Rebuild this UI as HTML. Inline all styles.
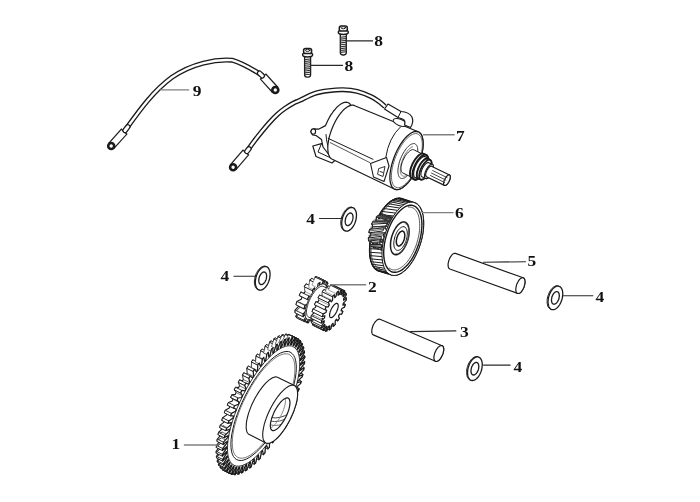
<!DOCTYPE html>
<html><head><meta charset="utf-8"><title>Starter motor parts</title>
<style>
html,body{margin:0;padding:0;background:#fff;}
body{width:700px;height:502px;overflow:hidden;}
svg{display:block;}
.lb{font-family:"Liberation Serif",serif;font-weight:bold;font-size:15.5px;fill:#111;}
</style></head><body>
<svg width="700" height="502" viewBox="0 0 700 502" stroke-linejoin="round" stroke-linecap="round">
<rect width="700" height="502" fill="#fff"/>
<path d="M125,130.5 C138,112.5 152,92 172,77.3 C192,63.3 216,59 232,60.2 C243,63.5 253,69.5 262.5,75.5" fill="none" stroke="#1a1a1a" stroke-width="5.0" stroke-linecap="butt"/>
<path d="M125,130.5 C138,112.5 152,92 172,77.3 C192,63.3 216,59 232,60.2 C243,63.5 253,69.5 262.5,75.5" fill="none" stroke="#fff" stroke-width="2.3" stroke-linecap="butt"/>
<line x1="124.5" y1="131.2" x2="111.2" y2="146.0" stroke="#1a1a1a" stroke-width="8.6" stroke-linecap="butt"/>
<line x1="123.7" y1="132.1" x2="111.2" y2="146.0" stroke="#fff" stroke-width="6.199999999999999" stroke-linecap="butt"/>
<circle cx="111.2" cy="146.0" r="3.0" fill="#fff" stroke="#1a1a1a" stroke-width="2.6"/>
<line x1="262.8" y1="76.2" x2="275.3" y2="90.0" stroke="#1a1a1a" stroke-width="8.6" stroke-linecap="butt"/>
<line x1="263.6" y1="77.1" x2="275.3" y2="90.0" stroke="#fff" stroke-width="6.199999999999999" stroke-linecap="butt"/>
<circle cx="275.3" cy="90.0" r="3.0" fill="#fff" stroke="#1a1a1a" stroke-width="2.6"/>
<line x1="127.8" y1="126.8" x2="125.0" y2="130.5" stroke="#1a1a1a" stroke-width="5.4" stroke-linecap="round"/>
<line x1="127.8" y1="126.8" x2="125.0" y2="130.5" stroke="#fff" stroke-width="3.0000000000000004" stroke-linecap="round"/>
<line x1="259.5" y1="73.2" x2="262.3" y2="75.8" stroke="#1a1a1a" stroke-width="5.4" stroke-linecap="round"/>
<line x1="259.5" y1="73.2" x2="262.3" y2="75.8" stroke="#fff" stroke-width="3.0000000000000004" stroke-linecap="round"/>
<path d="M247.5,150.5 C248.6,149.0 251.6,144.7 254.0,141.5 C256.4,138.3 259.2,134.8 261.8,131.6 C264.4,128.4 266.9,125.4 269.5,122.5 C272.1,119.6 275.0,116.5 277.7,114.1 C280.4,111.7 282.8,109.8 285.5,108.0 C288.2,106.2 291.3,104.3 293.7,103.0 C296.1,101.7 296.6,101.9 300.0,100.3 C303.4,98.7 309.5,95.2 314.3,93.6 C319.1,92.0 323.8,91.3 328.6,90.7 C333.4,90.1 338.1,89.6 342.9,89.7 C347.6,89.8 352.4,90.2 357.1,91.4 C361.9,92.6 367.8,95.0 371.4,96.7 C375.0,98.4 376.7,99.9 379.0,101.5 C381.3,103.1 384.0,105.7 385.0,106.5" fill="none" stroke="#1a1a1a" stroke-width="5.0" stroke-linecap="butt"/>
<path d="M247.5,150.5 C248.6,149.0 251.6,144.7 254.0,141.5 C256.4,138.3 259.2,134.8 261.8,131.6 C264.4,128.4 266.9,125.4 269.5,122.5 C272.1,119.6 275.0,116.5 277.7,114.1 C280.4,111.7 282.8,109.8 285.5,108.0 C288.2,106.2 291.3,104.3 293.7,103.0 C296.1,101.7 296.6,101.9 300.0,100.3 C303.4,98.7 309.5,95.2 314.3,93.6 C319.1,92.0 323.8,91.3 328.6,90.7 C333.4,90.1 338.1,89.6 342.9,89.7 C347.6,89.8 352.4,90.2 357.1,91.4 C361.9,92.6 367.8,95.0 371.4,96.7 C375.0,98.4 376.7,99.9 379.0,101.5 C381.3,103.1 384.0,105.7 385.0,106.5" fill="none" stroke="#fff" stroke-width="2.3" stroke-linecap="butt"/>
<line x1="246.2" y1="152.0" x2="233.1" y2="167.3" stroke="#1a1a1a" stroke-width="8.6" stroke-linecap="butt"/>
<line x1="245.4" y1="152.9" x2="233.1" y2="167.3" stroke="#fff" stroke-width="6.199999999999999" stroke-linecap="butt"/>
<circle cx="233.1" cy="167.3" r="3.0" fill="#fff" stroke="#1a1a1a" stroke-width="2.6"/>
<line x1="249.0" y1="148.8" x2="246.8" y2="151.5" stroke="#1a1a1a" stroke-width="5.4" stroke-linecap="round"/>
<line x1="249.0" y1="148.8" x2="246.8" y2="151.5" stroke="#fff" stroke-width="3.0000000000000004" stroke-linecap="round"/>
<rect x="340.3" y="32.2" width="6.0" height="22.8" rx="2.4" fill="#fff" stroke="#1a1a1a" stroke-width="1.3"/>
<line x1="340.6" y1="37.2" x2="346.0" y2="36.6" stroke="#333" stroke-width="1.1"/>
<line x1="340.6" y1="39.1" x2="346.0" y2="38.5" stroke="#333" stroke-width="1.1"/>
<line x1="340.6" y1="41.0" x2="346.0" y2="40.4" stroke="#333" stroke-width="1.1"/>
<line x1="340.6" y1="42.9" x2="346.0" y2="42.3" stroke="#333" stroke-width="1.1"/>
<line x1="340.6" y1="44.8" x2="346.0" y2="44.2" stroke="#333" stroke-width="1.1"/>
<line x1="340.6" y1="46.7" x2="346.0" y2="46.1" stroke="#333" stroke-width="1.1"/>
<line x1="340.6" y1="48.6" x2="346.0" y2="48.0" stroke="#333" stroke-width="1.1"/>
<line x1="340.6" y1="50.5" x2="346.0" y2="49.9" stroke="#333" stroke-width="1.1"/>
<line x1="340.6" y1="52.4" x2="346.0" y2="51.8" stroke="#333" stroke-width="1.1"/>
<ellipse cx="343.3" cy="32.3" rx="5.0" ry="2.2" fill="#fff" stroke="#1a1a1a" stroke-width="1.5"/>
<rect x="339.3" y="25.9" width="8.0" height="5.2" rx="1.8" fill="#fff" stroke="#1a1a1a" stroke-width="1.5"/>
<ellipse cx="343.3" cy="27.7" rx="2.3" ry="1.1" fill="#fff" stroke="#1a1a1a" stroke-width="1.0"/>
<rect x="304.6" y="54.6" width="6.0" height="22.6" rx="2.4" fill="#fff" stroke="#1a1a1a" stroke-width="1.3"/>
<line x1="304.9" y1="59.6" x2="310.3" y2="59.0" stroke="#333" stroke-width="1.1"/>
<line x1="304.9" y1="61.5" x2="310.3" y2="60.9" stroke="#333" stroke-width="1.1"/>
<line x1="304.9" y1="63.4" x2="310.3" y2="62.8" stroke="#333" stroke-width="1.1"/>
<line x1="304.9" y1="65.3" x2="310.3" y2="64.7" stroke="#333" stroke-width="1.1"/>
<line x1="304.9" y1="67.2" x2="310.3" y2="66.6" stroke="#333" stroke-width="1.1"/>
<line x1="304.9" y1="69.1" x2="310.3" y2="68.5" stroke="#333" stroke-width="1.1"/>
<line x1="304.9" y1="71.0" x2="310.3" y2="70.4" stroke="#333" stroke-width="1.1"/>
<line x1="304.9" y1="72.9" x2="310.3" y2="72.3" stroke="#333" stroke-width="1.1"/>
<line x1="304.9" y1="74.8" x2="310.3" y2="74.2" stroke="#333" stroke-width="1.1"/>
<ellipse cx="307.6" cy="54.7" rx="5.0" ry="2.2" fill="#fff" stroke="#1a1a1a" stroke-width="1.5"/>
<rect x="303.6" y="48.5" width="8.0" height="5.0" rx="1.8" fill="#fff" stroke="#1a1a1a" stroke-width="1.5"/>
<ellipse cx="307.6" cy="50.3" rx="2.3" ry="1.1" fill="#fff" stroke="#1a1a1a" stroke-width="1.0"/>
<path d="M312.8,146 L321.5,143.6 L330,146 L336.5,159 L332,163 L316,156.5 Z" fill="#fff" stroke="#1a1a1a" stroke-width="1.2"/>
<path d="M321.5,143.6 L318,152 L332,158.5" fill="none" stroke="#1a1a1a" stroke-width="1"/>
<path d="M350.7,105.0 L350.2,104.3 L349.7,103.7 L349.1,103.2 L348.4,102.8 L347.7,102.5 L347.0,102.3 L346.2,102.2 L345.4,102.3 L344.6,102.4 L343.7,102.6 L342.8,103.0 L341.9,103.4 L340.9,104.0 L340.0,104.6 L339.0,105.4 L338.0,106.2 L337.0,107.2 L336.1,108.2 L335.1,109.3 L334.1,110.5 L333.1,111.7 L332.2,113.1 L331.2,114.4 L330.3,115.9 L329.4,117.4 L328.6,119.0 L327.8,120.6 L327.0,122.2 L326.2,123.9 L325.5,125.6 L318.5,129.2 L313.5,128.8 L310.8,131.5 L312.5,134.8 L316.0,135.5 L321.5,139.5 L323.0,147.0 L328.0,153.5 L332.0,157.0 L344.0,133.0 Z" fill="#fff" stroke="#1a1a1a" stroke-width="1.2" />
<path d="M326,134.5 Q326.5,146 331.5,154" fill="none" stroke="#1a1a1a" stroke-width="1"/>
<ellipse cx="313.3" cy="131.6" rx="2.3" ry="2.7" fill="#fff" stroke="#1a1a1a" stroke-width="1.1"/>
<path d="M354.8,105.8 L353.9,105.4 L353.0,105.2 L352.0,105.2 L351.0,105.3 L349.9,105.6 L348.8,106.1 L347.6,106.7 L346.5,107.5 L345.3,108.4 L344.0,109.5 L342.8,110.7 L341.6,112.1 L340.4,113.5 L339.2,115.1 L338.0,116.8 L336.9,118.6 L335.8,120.5 L334.8,122.5 L333.8,124.5 L332.9,126.6 L332.0,128.7 L331.2,130.8 L330.5,132.9 L329.8,135.1 L329.2,137.2 L328.8,139.3 L328.4,141.3 L328.1,143.3 L327.9,145.2 L327.8,147.1 L327.8,148.8 L327.9,150.5 L328.0,152.0 L328.3,153.4 L328.7,154.7 L329.1,155.9 L329.7,156.9 L330.3,157.8 L331.0,158.5 L331.8,159.0 L394.8,189.2 L395.7,189.5 L396.8,189.6 L397.9,189.5 L399.0,189.3 L400.2,188.9 L401.4,188.3 L402.7,187.5 L403.9,186.5 L405.2,185.4 L406.5,184.2 L407.8,182.8 L409.1,181.3 L410.4,179.6 L411.7,177.8 L412.9,175.9 L414.1,173.9 L415.2,171.9 L416.3,169.7 L417.3,167.5 L418.3,165.3 L419.2,163.0 L420.0,160.8 L420.7,158.5 L421.3,156.2 L421.9,154.0 L422.3,151.7 L422.7,149.6 L422.9,147.5 L423.1,145.5 L423.1,143.6 L423.0,141.8 L422.9,140.1 L422.6,138.5 L422.3,137.1 L421.8,135.8 L421.3,134.7 L420.6,133.7 L419.9,132.9 L419.1,132.3 L418.2,131.8 Z" fill="#fff" stroke="#1a1a1a" stroke-width="1.2" />
<path d="M400.6,126.8 Q388.5,138 385.8,157.5" fill="none" stroke="#1a1a1a" stroke-width="1"/>
<path d="M418.2,131.8 L419.4,132.5 L420.4,133.4 L421.3,134.7 L422.0,136.2 L422.5,138.0 L422.9,140.1 L423.1,142.4 L423.1,144.9 L422.9,147.5 L422.5,150.3 L422.0,153.2 L421.3,156.2 L420.4,159.2 L419.4,162.3 L418.3,165.3 L417.0,168.3 L415.6,171.2 L414.1,173.9 L412.5,176.6 L410.8,179.0 L409.1,181.3 L407.4,183.3 L405.7,185.0 L403.9,186.5 L402.2,187.8 L400.6,188.7 L399.0,189.3 L397.5,189.6 L396.1,189.5 L394.8,189.2 L393.6,188.5 L392.6,187.6 L391.7,186.3 L391.0,184.8 L390.5,183.0 L390.1,180.9 L389.9,178.6 L389.9,176.1 L390.1,173.5 L390.5,170.7 L391.0,167.8 L391.7,164.8 L392.6,161.8 L393.6,158.7 L394.7,155.7 L396.0,152.7 L397.4,149.8 L398.9,147.1 L400.5,144.4 L402.2,142.0 L403.9,139.7 L405.6,137.7 L407.3,136.0 L409.1,134.5 L410.8,133.2 L412.4,132.3 L414.0,131.7 L415.5,131.4 L416.9,131.5 Z" fill="#fff" stroke="#1a1a1a" stroke-width="1.3" />
<path d="M417.8,134.0 L418.8,134.6 L419.8,135.5 L420.6,136.6 L421.3,138.1 L421.8,139.8 L422.1,141.7 L422.3,143.8 L422.3,146.1 L422.1,148.6 L421.8,151.2 L421.3,153.9 L420.6,156.7 L419.8,159.5 L418.9,162.3 L417.8,165.1 L416.6,167.9 L415.3,170.6 L413.9,173.1 L412.4,175.6 L410.9,177.9 L409.3,180.0 L407.7,181.8 L406.1,183.5 L404.5,184.9 L402.9,186.0 L401.4,186.9 L399.9,187.4 L398.5,187.7 L397.2,187.7 L396.0,187.3 L394.9,186.7 L393.9,185.8 L393.1,184.7 L392.5,183.2 L392.0,181.5 L391.6,179.6 L391.5,177.5 L391.4,175.2 L391.6,172.7 L391.9,170.1 L392.4,167.4 L393.1,164.7 L393.9,161.8 L394.8,159.0 L395.9,156.2 L397.1,153.4 L398.4,150.7 L399.8,148.2 L401.3,145.7 L402.8,143.4 L404.4,141.3 L406.0,139.5 L407.6,137.8 L409.3,136.4 L410.8,135.3 L412.4,134.4 L413.8,133.9 L415.3,133.6 L416.6,133.6 Z" fill="none" stroke="#555" stroke-width="0.9" />
<path d="M414.9,143.8 L415.6,144.2 L416.2,144.8 L416.8,145.6 L417.2,146.5 L417.5,147.6 L417.7,148.8 L417.8,150.2 L417.8,151.7 L417.7,153.3 L417.5,155.0 L417.2,156.7 L416.8,158.5 L416.3,160.3 L415.6,162.1 L414.9,163.9 L414.2,165.7 L413.3,167.5 L412.4,169.1 L411.5,170.7 L410.5,172.2 L409.5,173.5 L408.4,174.7 L407.4,175.8 L406.4,176.7 L405.3,177.4 L404.3,178.0 L403.4,178.3 L402.5,178.5 L401.6,178.5 L400.9,178.3 L400.2,177.9 L399.5,177.3 L399.0,176.6 L398.6,175.6 L398.3,174.5 L398.1,173.3 L397.9,171.9 L397.9,170.4 L398.0,168.9 L398.3,167.2 L398.6,165.4 L399.0,163.6 L399.5,161.8 L400.1,160.0 L400.8,158.2 L401.6,156.4 L402.4,154.7 L403.3,153.0 L404.3,151.4 L405.3,150.0 L406.3,148.6 L407.3,147.4 L408.4,146.3 L409.4,145.4 L410.4,144.7 L411.4,144.2 L412.4,143.8 L413.3,143.6 L414.1,143.6 Z" fill="none" stroke="#333" stroke-width="1.0" />
<path d="M413.8,166.2 L413.3,167.1 L412.8,168.1 L412.3,169.0 L411.7,169.9 L411.1,170.7 L410.6,171.5 L410.0,172.3 L409.4,173.0 L408.8,173.6 L408.2,174.2 L407.6,174.7 L407.0,175.1 L406.4,175.5 L405.8,175.8 L405.3,176.0 L404.8,176.2 L404.2,176.3 L403.7,176.3 L403.3,176.2 L402.8,176.1 L402.4,175.9 L402.1,175.6 L401.7,175.2 L401.4,174.8 L401.1,174.3 L400.9,173.8 L400.7,173.2 L400.6,172.5 L400.4,171.8 L400.4,171.0 L400.3,170.2 L400.4,169.3 L400.4,168.4 L400.5,167.4 L400.7,166.5 L400.8,165.5 L401.1,164.4 L401.3,163.4 L401.6,162.4 L402.0,161.3 L402.3,160.3 L402.7,159.2 L403.2,158.2 L403.6,157.2 L404.1,156.2 L404.6,155.2 L405.1,154.3 L405.7,153.4 L406.2,152.5 L406.8,151.7 L407.4,150.9 L408.0,150.2 L408.6,149.6 L409.2,149.0 L409.8,148.4 L410.4,148.0 L411.0,147.6 L411.5,147.2 L412.1,147.0 L412.6,146.8" fill="none" stroke="#666" stroke-width="0.9" />
<line x1="328.2" y1="138.4" x2="373.0" y2="159.3" stroke="#1a1a1a" stroke-width="1.0"/>
<line x1="330.2" y1="142.6" x2="369.8" y2="162.6" stroke="#444" stroke-width="0.9"/>
<path d="M370.5,163.5 L386.5,157.5 L389,166 L384,181.5 L373.5,177 Z" fill="#fff" stroke="#1a1a1a" stroke-width="1.1"/>
<path d="M379,168.5 L385,166.5 L383,176.5 L378,174.5 Z M380,171.5 L383,172.5" fill="none" stroke="#1a1a1a" stroke-width="0.9"/>
<path d="M413.9,149.9 L413.4,149.7 L412.8,149.6 L412.2,149.7 L411.5,149.9 L410.8,150.3 L410.1,150.7 L409.3,151.3 L408.5,152.0 L407.8,152.8 L407.0,153.6 L406.3,154.6 L405.5,155.6 L404.9,156.7 L404.2,157.9 L403.6,159.1 L403.0,160.3 L402.5,161.5 L402.1,162.7 L401.7,164.0 L401.4,165.1 L401.2,166.3 L401.0,167.4 L401.0,168.4 L401.0,169.3 L401.1,170.2 L401.3,171.0 L401.5,171.6 L401.8,172.2 L402.2,172.6 L402.7,172.9 L412.1,177.5 L412.6,177.7 L413.2,177.7 L413.9,177.6 L414.5,177.4 L415.2,177.1 L416.0,176.6 L416.7,176.1 L417.5,175.4 L418.3,174.6 L419.0,173.7 L419.8,172.8 L420.5,171.7 L421.2,170.6 L421.8,169.5 L422.5,168.3 L423.0,167.1 L423.5,165.8 L424.0,164.6 L424.3,163.4 L424.6,162.2 L424.8,161.1 L425.0,160.0 L425.1,159.0 L425.0,158.0 L425.0,157.2 L424.8,156.4 L424.5,155.7 L424.2,155.2 L423.8,154.8 L423.3,154.5 Z" fill="#fff" stroke="#1a1a1a" stroke-width="1.0" />
<path d="M423.3,154.5 L423.8,154.8 L424.2,155.2 L424.5,155.7 L424.8,156.4 L425.0,157.2 L425.0,158.0 L425.1,159.0 L425.0,160.0 L424.8,161.1 L424.6,162.2 L424.3,163.4 L424.0,164.6 L423.5,165.8 L423.0,167.1 L422.5,168.3 L421.8,169.5 L421.2,170.6 L420.5,171.7 L419.8,172.8 L419.0,173.7 L418.3,174.6 L417.5,175.4 L416.7,176.1 L416.0,176.6 L415.2,177.1 L414.5,177.4 L413.9,177.6 L413.2,177.7 L412.6,177.7 L412.1,177.5 L411.7,177.2 L411.3,176.8 L410.9,176.2 L410.7,175.6 L410.5,174.8 L410.4,173.9 L410.4,173.0 L410.5,172.0 L410.6,170.9 L410.8,169.7 L411.1,168.6 L411.5,167.3 L412.0,166.1 L412.5,164.9 L413.0,163.7 L413.6,162.5 L414.3,161.3 L415.0,160.2 L415.7,159.2 L416.5,158.2 L417.2,157.4 L418.0,156.6 L418.7,155.9 L419.5,155.3 L420.2,154.9 L420.9,154.5 L421.6,154.3 L422.2,154.2 L422.8,154.3 Z" fill="#fff" stroke="#1a1a1a" stroke-width="1.0" />
<path d="M423.7,153.8 L423.1,153.6 L422.5,153.5 L421.9,153.6 L421.1,153.8 L420.4,154.2 L419.6,154.7 L418.8,155.3 L418.0,156.0 L417.2,156.8 L416.4,157.8 L415.6,158.8 L414.8,159.9 L414.1,161.0 L413.4,162.3 L412.7,163.5 L412.1,164.8 L411.6,166.1 L411.1,167.4 L410.7,168.7 L410.4,170.0 L410.2,171.2 L410.0,172.3 L410.0,173.4 L410.0,174.4 L410.1,175.3 L410.3,176.2 L410.5,176.8 L410.9,177.4 L411.3,177.9 L411.8,178.2 L414.3,179.4 L414.8,179.6 L415.5,179.7 L416.1,179.6 L416.8,179.4 L417.6,179.0 L418.4,178.5 L419.2,177.9 L420.0,177.2 L420.8,176.4 L421.6,175.4 L422.4,174.4 L423.2,173.3 L423.9,172.1 L424.6,170.9 L425.3,169.7 L425.9,168.4 L426.4,167.1 L426.9,165.8 L427.3,164.5 L427.6,163.2 L427.8,162.0 L428.0,160.8 L428.0,159.8 L428.0,158.8 L427.9,157.8 L427.7,157.0 L427.5,156.3 L427.1,155.8 L426.7,155.3 L426.2,155.0 Z" fill="#fff" stroke="#1a1a1a" stroke-width="1.9" />
<path d="M426.2,155.0 L426.7,155.3 L427.1,155.8 L427.5,156.3 L427.7,157.0 L427.9,157.8 L428.0,158.8 L428.0,159.8 L428.0,160.8 L427.8,162.0 L427.6,163.2 L427.3,164.5 L426.9,165.8 L426.4,167.1 L425.9,168.4 L425.3,169.7 L424.6,170.9 L423.9,172.1 L423.2,173.3 L422.4,174.4 L421.6,175.4 L420.8,176.4 L420.0,177.2 L419.2,177.9 L418.4,178.5 L417.6,179.0 L416.8,179.4 L416.1,179.6 L415.5,179.7 L414.8,179.6 L414.3,179.4 L413.8,179.1 L413.4,178.7 L413.0,178.1 L412.8,177.4 L412.6,176.6 L412.5,175.7 L412.5,174.7 L412.5,173.6 L412.7,172.4 L412.9,171.2 L413.2,169.9 L413.6,168.7 L414.1,167.4 L414.6,166.1 L415.2,164.8 L415.9,163.5 L416.6,162.3 L417.3,161.1 L418.1,160.0 L418.9,159.0 L419.7,158.0 L420.5,157.2 L421.3,156.5 L422.1,155.9 L422.9,155.4 L423.7,155.0 L424.4,154.8 L425.0,154.7 L425.7,154.8 Z" fill="#fff" stroke="#1a1a1a" stroke-width="1.9" />
<path d="M425.3,156.8 L424.9,156.6 L424.3,156.6 L423.8,156.6 L423.2,156.8 L422.5,157.1 L421.9,157.5 L421.2,158.1 L420.5,158.7 L419.8,159.4 L419.1,160.2 L418.4,161.1 L417.8,162.0 L417.1,163.0 L416.5,164.0 L416.0,165.1 L415.5,166.2 L415.0,167.3 L414.6,168.4 L414.3,169.5 L414.0,170.6 L413.8,171.6 L413.7,172.6 L413.6,173.6 L413.6,174.4 L413.7,175.2 L413.9,175.9 L414.1,176.5 L414.4,177.0 L414.7,177.4 L415.2,177.6 L418.0,179.0 L418.5,179.2 L419.0,179.2 L419.6,179.2 L420.2,179.0 L420.9,178.7 L421.5,178.3 L422.2,177.8 L422.9,177.1 L423.6,176.4 L424.3,175.6 L425.0,174.8 L425.6,173.8 L426.3,172.8 L426.8,171.8 L427.4,170.7 L427.9,169.6 L428.4,168.5 L428.8,167.4 L429.1,166.3 L429.4,165.2 L429.6,164.2 L429.7,163.2 L429.8,162.3 L429.8,161.4 L429.7,160.6 L429.5,159.9 L429.3,159.3 L429.0,158.8 L428.6,158.5 L428.2,158.2 Z" fill="#fff" stroke="#1a1a1a" stroke-width="1.2" />
<path d="M428.2,158.2 L428.6,158.5 L429.0,158.8 L429.3,159.3 L429.5,159.9 L429.7,160.6 L429.8,161.4 L429.8,162.3 L429.7,163.2 L429.6,164.2 L429.4,165.2 L429.1,166.3 L428.8,167.4 L428.4,168.5 L427.9,169.6 L427.4,170.7 L426.8,171.8 L426.3,172.8 L425.6,173.8 L425.0,174.8 L424.3,175.6 L423.6,176.4 L422.9,177.1 L422.2,177.8 L421.5,178.3 L420.9,178.7 L420.2,179.0 L419.6,179.2 L419.0,179.2 L418.5,179.2 L418.0,179.0 L417.6,178.8 L417.3,178.4 L417.0,177.9 L416.7,177.3 L416.6,176.6 L416.5,175.8 L416.5,175.0 L416.5,174.0 L416.7,173.1 L416.9,172.0 L417.2,170.9 L417.5,169.8 L417.9,168.7 L418.3,167.6 L418.9,166.5 L419.4,165.4 L420.0,164.4 L420.6,163.4 L421.3,162.5 L422.0,161.6 L422.7,160.8 L423.4,160.1 L424.0,159.5 L424.7,158.9 L425.4,158.5 L426.0,158.2 L426.6,158.0 L427.2,158.0 L427.7,158.0 Z" fill="#fff" stroke="#1a1a1a" stroke-width="1.2" />
<path d="M427.9,158.9 L427.4,158.8 L426.9,158.7 L426.4,158.8 L425.8,159.0 L425.2,159.2 L424.6,159.6 L424.0,160.1 L423.3,160.7 L422.7,161.3 L422.0,162.1 L421.4,162.9 L420.8,163.8 L420.2,164.7 L419.7,165.7 L419.1,166.7 L418.7,167.7 L418.3,168.7 L417.9,169.8 L417.6,170.8 L417.3,171.8 L417.1,172.7 L417.0,173.7 L416.9,174.5 L417.0,175.3 L417.0,176.0 L417.2,176.7 L417.4,177.2 L417.7,177.7 L418.0,178.1 L418.4,178.3 L420.6,179.4 L421.1,179.6 L421.6,179.6 L422.1,179.5 L422.7,179.4 L423.3,179.1 L423.9,178.7 L424.5,178.2 L425.2,177.6 L425.8,177.0 L426.5,176.2 L427.1,175.4 L427.7,174.6 L428.3,173.6 L428.8,172.7 L429.4,171.6 L429.8,170.6 L430.3,169.6 L430.6,168.6 L430.9,167.5 L431.2,166.5 L431.4,165.6 L431.5,164.7 L431.6,163.8 L431.5,163.0 L431.5,162.3 L431.3,161.6 L431.1,161.1 L430.8,160.6 L430.5,160.3 L430.1,160.0 Z" fill="#fff" stroke="#1a1a1a" stroke-width="1.7" />
<path d="M430.1,160.0 L430.5,160.3 L430.8,160.6 L431.1,161.1 L431.3,161.6 L431.5,162.3 L431.5,163.0 L431.6,163.8 L431.5,164.7 L431.4,165.6 L431.2,166.5 L430.9,167.5 L430.6,168.6 L430.3,169.6 L429.8,170.6 L429.4,171.6 L428.8,172.7 L428.3,173.6 L427.7,174.6 L427.1,175.4 L426.5,176.2 L425.8,177.0 L425.2,177.6 L424.5,178.2 L423.9,178.7 L423.3,179.1 L422.7,179.4 L422.1,179.5 L421.6,179.6 L421.1,179.6 L420.6,179.4 L420.3,179.2 L419.9,178.8 L419.6,178.3 L419.4,177.8 L419.3,177.1 L419.2,176.4 L419.2,175.6 L419.2,174.8 L419.4,173.8 L419.6,172.9 L419.8,171.9 L420.1,170.9 L420.5,169.8 L420.9,168.8 L421.4,167.8 L421.9,166.8 L422.5,165.8 L423.1,164.9 L423.7,164.0 L424.3,163.2 L424.9,162.4 L425.6,161.8 L426.2,161.2 L426.9,160.7 L427.5,160.3 L428.1,160.0 L428.6,159.9 L429.2,159.8 L429.7,159.8 Z" fill="#fff" stroke="#1a1a1a" stroke-width="1.7" />
<path d="M428.8,162.7 L428.5,162.6 L428.1,162.6 L427.7,162.6 L427.3,162.7 L426.9,162.9 L426.5,163.2 L426.0,163.6 L425.5,164.0 L425.1,164.5 L424.6,165.0 L424.1,165.6 L423.7,166.2 L423.3,166.9 L422.9,167.6 L422.5,168.3 L422.2,169.0 L421.9,169.8 L421.6,170.5 L421.4,171.3 L421.2,172.0 L421.0,172.7 L421.0,173.4 L420.9,174.0 L420.9,174.6 L421.0,175.1 L421.1,175.5 L421.2,175.9 L421.4,176.3 L421.7,176.5 L422.0,176.7 L425.6,178.5 L425.9,178.6 L426.2,178.6 L426.6,178.6 L427.0,178.4 L427.4,178.2 L427.9,178.0 L428.4,177.6 L428.8,177.2 L429.3,176.7 L429.7,176.2 L430.2,175.6 L430.6,175.0 L431.1,174.3 L431.5,173.6 L431.8,172.9 L432.2,172.1 L432.5,171.4 L432.8,170.6 L433.0,169.9 L433.2,169.2 L433.3,168.5 L433.4,167.8 L433.4,167.2 L433.4,166.6 L433.4,166.1 L433.3,165.6 L433.1,165.2 L432.9,164.9 L432.7,164.6 L432.4,164.4 Z" fill="#fff" stroke="#1a1a1a" stroke-width="1.1" />
<path d="M432.4,164.4 L432.7,164.6 L432.9,164.9 L433.1,165.2 L433.3,165.6 L433.4,166.1 L433.4,166.6 L433.4,167.2 L433.4,167.8 L433.3,168.5 L433.2,169.2 L433.0,169.9 L432.8,170.6 L432.5,171.4 L432.2,172.1 L431.8,172.9 L431.5,173.6 L431.1,174.3 L430.6,175.0 L430.2,175.6 L429.7,176.2 L429.3,176.7 L428.8,177.2 L428.4,177.6 L427.9,178.0 L427.4,178.2 L427.0,178.4 L426.6,178.6 L426.2,178.6 L425.9,178.6 L425.6,178.5 L425.3,178.3 L425.0,178.0 L424.8,177.7 L424.7,177.3 L424.6,176.8 L424.5,176.3 L424.5,175.7 L424.5,175.1 L424.6,174.4 L424.8,173.8 L425.0,173.0 L425.2,172.3 L425.4,171.5 L425.8,170.8 L426.1,170.1 L426.5,169.3 L426.9,168.6 L427.3,168.0 L427.7,167.3 L428.2,166.7 L428.7,166.2 L429.1,165.7 L429.6,165.3 L430.0,165.0 L430.5,164.7 L430.9,164.5 L431.3,164.4 L431.7,164.3 L432.1,164.3 Z" fill="#fff" stroke="#1a1a1a" stroke-width="1.1" />
<path d="M431.5,166.2 L431.3,166.2 L431.0,166.1 L430.7,166.2 L430.4,166.3 L430.1,166.4 L429.8,166.6 L429.4,166.9 L429.1,167.2 L428.7,167.6 L428.4,167.9 L428.1,168.4 L427.7,168.9 L427.4,169.4 L427.1,169.9 L426.8,170.4 L426.6,171.0 L426.4,171.5 L426.2,172.1 L426.0,172.6 L425.8,173.2 L425.7,173.7 L425.7,174.2 L425.7,174.6 L425.7,175.1 L425.7,175.5 L425.8,175.8 L425.9,176.1 L426.0,176.3 L426.2,176.5 L426.4,176.7 L444.4,185.4 L444.6,185.5 L444.9,185.5 L445.2,185.5 L445.5,185.4 L445.8,185.3 L446.1,185.1 L446.5,184.8 L446.8,184.5 L447.2,184.1 L447.5,183.7 L447.9,183.3 L448.2,182.8 L448.5,182.3 L448.8,181.8 L449.1,181.3 L449.3,180.7 L449.6,180.2 L449.8,179.6 L449.9,179.1 L450.1,178.5 L450.2,178.0 L450.2,177.5 L450.3,177.1 L450.3,176.6 L450.2,176.2 L450.1,175.9 L450.0,175.6 L449.9,175.3 L449.7,175.2 L449.5,175.0 Z" fill="#fff" stroke="#1a1a1a" stroke-width="1.2" />
<path d="M449.5,175.0 L449.7,175.2 L449.9,175.3 L450.0,175.6 L450.1,175.9 L450.2,176.2 L450.3,176.6 L450.3,177.1 L450.2,177.5 L450.2,178.0 L450.1,178.5 L449.9,179.1 L449.8,179.6 L449.6,180.2 L449.3,180.7 L449.1,181.3 L448.8,181.8 L448.5,182.3 L448.2,182.8 L447.9,183.3 L447.5,183.7 L447.2,184.1 L446.8,184.5 L446.5,184.8 L446.1,185.1 L445.8,185.3 L445.5,185.4 L445.2,185.5 L444.9,185.5 L444.6,185.5 L444.4,185.4 L444.2,185.3 L444.0,185.1 L443.9,184.9 L443.8,184.6 L443.7,184.2 L443.6,183.8 L443.6,183.4 L443.7,182.9 L443.7,182.4 L443.8,181.9 L444.0,181.4 L444.1,180.8 L444.3,180.3 L444.6,179.7 L444.8,179.2 L445.1,178.6 L445.4,178.1 L445.7,177.6 L446.0,177.2 L446.4,176.7 L446.7,176.3 L447.1,176.0 L447.4,175.7 L447.7,175.4 L448.1,175.2 L448.4,175.0 L448.7,174.9 L449.0,174.9 L449.3,174.9 Z" fill="#fff" stroke="#1a1a1a" stroke-width="1.2" />
<line x1="430.4" y1="175.5" x2="444.7" y2="182.5" stroke="#333" stroke-width="0.9"/>
<line x1="431.5" y1="173.1" x2="445.9" y2="180.1" stroke="#333" stroke-width="0.9"/>
<line x1="432.7" y1="170.6" x2="447.1" y2="177.6" stroke="#333" stroke-width="0.9"/>
<ellipse cx="400" cy="122.5" rx="7.2" ry="3.2" transform="rotate(22 400 122.5)" fill="#fff" stroke="#1a1a1a" stroke-width="1"/>
<path d="M384.5,109 L388,104 L401,111.5 Q409,112 412,117 Q414,122.5 410.5,127.5 L404.5,125 Q406,120.5 402.5,119 L398,117.5 Z" fill="#fff" stroke="#1a1a1a" stroke-width="1.2"/>
<path d="M398,117.5 L401,111.5" fill="none" stroke="#1a1a1a" stroke-width="1"/>
<path d="M401.9,198.6 L400.5,198.3 L399.0,198.2 L397.5,198.4 L396.0,198.7 L394.4,199.3 L392.8,200.1 L391.1,201.1 L389.5,202.3 L387.9,203.7 L386.2,205.4 L384.7,207.2 L383.1,209.1 L381.6,211.2 L380.1,213.5 L378.7,215.9 L377.4,218.4 L376.2,221.1 L375.0,223.8 L374.0,226.5 L373.0,229.4 L372.2,232.2 L371.4,235.1 L370.8,238.0 L370.3,240.8 L369.9,243.6 L369.7,246.4 L369.6,249.1 L369.6,251.7 L369.7,254.2 L370.0,256.6 L370.4,258.8 L370.9,260.9 L371.5,262.9 L372.3,264.6 L373.1,266.2 L374.1,267.6 L375.2,268.8 L376.3,269.8 L377.6,270.5 L378.9,271.1 L391.3,275.0 L392.7,275.3 L394.2,275.4 L395.7,275.3 L397.2,275.0 L398.8,274.4 L400.5,273.6 L402.1,272.6 L403.7,271.3 L405.4,269.9 L407.0,268.3 L408.6,266.5 L410.1,264.6 L411.6,262.4 L413.1,260.2 L414.5,257.8 L415.8,255.2 L417.0,252.6 L418.2,249.9 L419.2,247.1 L420.2,244.3 L421.0,241.5 L421.8,238.6 L422.4,235.7 L422.9,232.9 L423.3,230.0 L423.5,227.3 L423.6,224.6 L423.6,222.0 L423.5,219.5 L423.2,217.1 L422.8,214.8 L422.3,212.7 L421.7,210.8 L420.9,209.0 L420.1,207.4 L419.1,206.1 L418.0,204.9 L416.9,203.9 L415.6,203.1 L414.3,202.6 Z" fill="#fff" stroke="#1a1a1a" stroke-width="1.3" />
<line x1="401.0" y1="198.4" x2="414.9" y2="203.1" stroke="#1a1a1a" stroke-width="1.0"/>
<line x1="402.9" y1="199.0" x2="416.6" y2="204.1" stroke="#1a1a1a" stroke-width="1.0"/>
<line x1="404.6" y1="200.1" x2="418.2" y2="205.4" stroke="#1a1a1a" stroke-width="1.0"/>
<line x1="383.9" y1="271.3" x2="394.6" y2="275.1" stroke="#1a1a1a" stroke-width="1.0"/>
<line x1="381.8" y1="271.5" x2="392.6" y2="275.0" stroke="#1a1a1a" stroke-width="1.0"/>
<line x1="379.8" y1="271.3" x2="390.7" y2="274.5" stroke="#1a1a1a" stroke-width="1.0"/>
<line x1="377.9" y1="270.7" x2="389.0" y2="273.5" stroke="#1a1a1a" stroke-width="1.0"/>
<line x1="376.2" y1="269.7" x2="387.4" y2="272.2" stroke="#1a1a1a" stroke-width="1.0"/>
<line x1="374.6" y1="268.2" x2="386.0" y2="270.4" stroke="#1a1a1a" stroke-width="1.0"/>
<line x1="373.2" y1="266.4" x2="384.8" y2="268.3" stroke="#1a1a1a" stroke-width="1.0"/>
<line x1="372.1" y1="264.2" x2="383.8" y2="265.8" stroke="#1a1a1a" stroke-width="1.0"/>
<line x1="371.1" y1="261.7" x2="383.0" y2="263.0" stroke="#1a1a1a" stroke-width="1.0"/>
<line x1="370.4" y1="258.8" x2="382.5" y2="260.0" stroke="#1a1a1a" stroke-width="1.0"/>
<line x1="369.9" y1="255.6" x2="382.2" y2="256.6" stroke="#1a1a1a" stroke-width="1.0"/>
<line x1="369.6" y1="252.3" x2="382.1" y2="253.1" stroke="#1a1a1a" stroke-width="1.0"/>
<line x1="369.6" y1="248.7" x2="382.3" y2="249.4" stroke="#1a1a1a" stroke-width="1.0"/>
<line x1="369.8" y1="244.9" x2="382.7" y2="245.6" stroke="#1a1a1a" stroke-width="1.0"/>
<line x1="370.3" y1="241.1" x2="383.4" y2="241.7" stroke="#1a1a1a" stroke-width="1.0"/>
<line x1="371.0" y1="237.1" x2="384.3" y2="237.8" stroke="#1a1a1a" stroke-width="1.0"/>
<line x1="371.9" y1="233.2" x2="385.4" y2="233.8" stroke="#1a1a1a" stroke-width="1.0"/>
<line x1="373.1" y1="229.2" x2="386.7" y2="230.0" stroke="#1a1a1a" stroke-width="1.0"/>
<line x1="374.4" y1="225.3" x2="388.2" y2="226.2" stroke="#1a1a1a" stroke-width="1.0"/>
<line x1="376.0" y1="221.6" x2="389.9" y2="222.6" stroke="#1a1a1a" stroke-width="1.0"/>
<line x1="377.7" y1="217.9" x2="391.7" y2="219.2" stroke="#1a1a1a" stroke-width="1.0"/>
<line x1="379.5" y1="214.5" x2="393.6" y2="216.0" stroke="#1a1a1a" stroke-width="1.0"/>
<line x1="381.5" y1="211.4" x2="395.7" y2="213.1" stroke="#1a1a1a" stroke-width="1.0"/>
<line x1="383.6" y1="208.5" x2="397.8" y2="210.4" stroke="#1a1a1a" stroke-width="1.0"/>
<line x1="385.8" y1="205.9" x2="400.0" y2="208.1" stroke="#1a1a1a" stroke-width="1.0"/>
<line x1="388.0" y1="203.6" x2="402.3" y2="206.2" stroke="#1a1a1a" stroke-width="1.0"/>
<line x1="390.2" y1="201.7" x2="404.5" y2="204.7" stroke="#1a1a1a" stroke-width="1.0"/>
<line x1="392.5" y1="200.2" x2="406.7" y2="203.5" stroke="#1a1a1a" stroke-width="1.0"/>
<line x1="394.7" y1="199.1" x2="408.9" y2="202.8" stroke="#1a1a1a" stroke-width="1.0"/>
<line x1="396.9" y1="198.5" x2="411.0" y2="202.5" stroke="#1a1a1a" stroke-width="1.0"/>
<line x1="399.0" y1="198.2" x2="413.0" y2="202.6" stroke="#1a1a1a" stroke-width="1.0"/>
<path d="M380.0,271.4 L379.1,271.1 L378.2,270.8 L377.3,270.4 L376.4,269.8 L375.6,269.2 L374.8,268.5 L374.1,267.6 L373.4,266.7 L372.8,265.7 L372.2,264.6 L371.7,263.4 L371.3,262.1 L370.8,260.7 L370.5,259.3 L370.2,257.8 L369.9,256.2 L369.8,254.6 L369.6,252.9 L369.6,251.2 L369.6,249.4 L369.6,247.6 L369.8,245.7 L369.9,243.8 L370.2,241.9 L370.5,239.9 L370.8,238.0 L371.2,236.0 L371.7,234.1 L372.2,232.1 L372.8,230.1 L373.4,228.2 L374.1,226.3 L374.8,224.4 L375.6,222.5 L376.4,220.7 L377.2,218.9 L378.1,217.1 L379.0,215.4 L380.0,213.8 L381.0,212.2 L382.0,210.7 L383.0,209.2 L384.1,207.9 L385.1,206.6 L386.2,205.4 L387.3,204.2 L388.4,203.2 L389.6,202.3 L390.7,201.4 L391.8,200.7 L392.9,200.0 L394.0,199.5 L395.1,199.0 L396.2,198.6 L397.3,198.4 L398.3,198.3 L399.3,198.2 L400.3,198.3 L401.3,198.5 L402.2,198.8" fill="none" stroke="#1a1a1a" stroke-width="1.3" />
<path d="M379.7,268.7 L378.8,268.4 L378.0,268.0 L377.3,267.5 L376.5,266.9 L375.8,266.2 L375.2,265.5 L374.6,264.6 L374.0,263.7 L373.5,262.7 L373.0,261.6 L372.6,260.4 L372.2,259.2 L371.8,257.9 L371.6,256.6 L371.3,255.2 L371.2,253.7 L371.0,252.2 L371.0,250.6 L370.9,249.0 L371.0,247.3 L371.1,245.6 L371.2,243.9 L371.4,242.2 L371.6,240.4 L371.9,238.7 L372.3,236.9 L372.7,235.1 L373.1,233.3 L373.6,231.5 L374.2,229.7 L374.8,228.0 L375.4,226.2 L376.0,224.5 L376.8,222.8 L377.5,221.1 L378.3,219.5 L379.1,217.9 L379.9,216.4 L380.8,214.9 L381.7,213.5 L382.6,212.1 L383.6,210.8 L384.5,209.6 L385.5,208.4 L386.5,207.3 L387.5,206.3 L388.5,205.3 L389.5,204.5 L390.6,203.7 L391.6,203.0 L392.6,202.4 L393.6,201.9 L394.6,201.4 L395.6,201.1 L396.6,200.9 L397.5,200.7 L398.5,200.6 L399.4,200.7 L400.3,200.8 L401.1,201.0" fill="none" stroke="#333" stroke-width="0.9" />
<path d="M383.2,218.7 L385.3,215.6 L386.3,217.1 L384.7,220.9 L385.2,222.6 L387.5,221.2 L387.6,223.8 L385.4,226.4 L385.2,228.7 L387.1,229.4 L386.3,232.4 L384.1,233.1 L383.3,235.4 L384.3,238.0 L382.8,240.6 L381.2,239.2 L379.9,240.9 L379.8,244.7 L378.0,246.2 L377.4,243.1 L376.1,243.8 L374.8,247.7 L373.2,247.7 L373.8,243.8 L372.8,243.2 L370.7,246.3 L369.7,244.7 L371.3,241.0 L370.9,239.3 L368.6,240.7 L368.4,238.0 L370.6,235.5 L370.9,233.2 L369.0,232.5 L369.7,229.4 L371.9,228.8 L372.8,226.5 L371.8,223.9 L373.2,221.2 L374.8,222.6 L376.1,221.0 L376.3,217.2 L378.0,215.6 L378.6,218.7 L379.9,218.1 L381.2,214.1 L382.8,214.1 L382.2,218.1 Z" fill="#fff" stroke="#1a1a1a" stroke-width="1.2" />
<path d="M385.3,215.6 L386.3,217.1 L399.9,225.2 L399.4,222.9 Z" fill="#fff" stroke="#1a1a1a" stroke-width="1.0" />
<line x1="383.2" y1="218.7" x2="397.1" y2="224.9" stroke="#333" stroke-width="0.9"/>
<line x1="386.5" y1="219.5" x2="399.5" y2="227.9" stroke="#333" stroke-width="0.9"/>
<line x1="385.8" y1="216.3" x2="399.7" y2="224.0" stroke="#444" stroke-width="0.8"/>
<line x1="385.7" y1="219.4" x2="398.9" y2="227.3" stroke="#444" stroke-width="0.8"/>
<path d="M387.5,221.2 L387.6,223.8 L399.4,233.4 L399.9,230.4 Z" fill="#fff" stroke="#1a1a1a" stroke-width="1.0" />
<line x1="385.2" y1="222.6" x2="397.8" y2="230.5" stroke="#333" stroke-width="0.9"/>
<line x1="387.0" y1="226.6" x2="398.3" y2="236.0" stroke="#333" stroke-width="0.9"/>
<line x1="387.6" y1="222.4" x2="399.7" y2="231.9" stroke="#444" stroke-width="0.8"/>
<line x1="386.5" y1="225.7" x2="398.1" y2="234.8" stroke="#444" stroke-width="0.8"/>
<path d="M387.1,229.4 L386.3,232.4 L396.6,242.0 L397.8,239.1 Z" fill="#fff" stroke="#1a1a1a" stroke-width="1.0" />
<line x1="385.2" y1="228.7" x2="396.5" y2="237.2" stroke="#333" stroke-width="0.9"/>
<line x1="385.1" y1="234.8" x2="395.1" y2="243.8" stroke="#333" stroke-width="0.9"/>
<line x1="386.7" y1="230.9" x2="397.2" y2="240.6" stroke="#444" stroke-width="0.8"/>
<line x1="385.0" y1="233.4" x2="395.3" y2="242.3" stroke="#444" stroke-width="0.8"/>
<path d="M384.3,238.0 L382.8,240.6 L392.1,248.7 L393.8,246.7 Z" fill="#fff" stroke="#1a1a1a" stroke-width="1.0" />
<line x1="383.3" y1="235.4" x2="393.5" y2="243.3" stroke="#333" stroke-width="0.9"/>
<line x1="381.3" y1="242.0" x2="390.6" y2="249.2" stroke="#333" stroke-width="0.9"/>
<line x1="383.6" y1="239.3" x2="393.0" y2="247.8" stroke="#444" stroke-width="0.8"/>
<line x1="381.7" y1="240.5" x2="391.2" y2="247.8" stroke="#444" stroke-width="0.8"/>
<path d="M379.8,244.7 L378.0,246.2 L387.1,251.7 L388.8,251.1 Z" fill="#fff" stroke="#1a1a1a" stroke-width="1.0" />
<line x1="379.9" y1="240.9" x2="389.8" y2="247.1" stroke="#333" stroke-width="0.9"/>
<line x1="376.6" y1="246.2" x2="386.0" y2="250.7" stroke="#333" stroke-width="0.9"/>
<line x1="378.9" y1="245.5" x2="388.0" y2="251.5" stroke="#444" stroke-width="0.8"/>
<line x1="377.4" y1="244.9" x2="386.9" y2="249.8" stroke="#444" stroke-width="0.8"/>
<path d="M374.8,247.7 L373.2,247.7 L383.1,250.1 L384.3,251.2 Z" fill="#fff" stroke="#1a1a1a" stroke-width="1.0" />
<line x1="376.1" y1="243.8" x2="386.2" y2="247.7" stroke="#333" stroke-width="0.9"/>
<line x1="372.3" y1="246.4" x2="382.7" y2="248.0" stroke="#333" stroke-width="0.9"/>
<line x1="374.0" y1="247.8" x2="383.7" y2="250.7" stroke="#444" stroke-width="0.8"/>
<line x1="373.2" y1="245.7" x2="383.5" y2="247.9" stroke="#444" stroke-width="0.8"/>
<path d="M370.7,246.3 L369.7,244.7 L381.0,244.5 L381.4,246.9 Z" fill="#fff" stroke="#1a1a1a" stroke-width="1.0" />
<line x1="372.8" y1="243.2" x2="383.7" y2="244.8" stroke="#333" stroke-width="0.9"/>
<line x1="369.6" y1="242.4" x2="381.4" y2="241.8" stroke="#333" stroke-width="0.9"/>
<line x1="370.2" y1="245.6" x2="381.2" y2="245.8" stroke="#444" stroke-width="0.8"/>
<line x1="370.3" y1="242.5" x2="381.9" y2="242.4" stroke="#444" stroke-width="0.8"/>
<path d="M368.6,240.7 L368.4,238.0 L381.4,236.3 L380.9,239.3 Z" fill="#fff" stroke="#1a1a1a" stroke-width="1.0" />
<line x1="370.9" y1="239.3" x2="383.0" y2="239.3" stroke="#333" stroke-width="0.9"/>
<line x1="369.1" y1="235.3" x2="382.5" y2="233.7" stroke="#333" stroke-width="0.9"/>
<line x1="368.5" y1="239.4" x2="381.1" y2="237.9" stroke="#444" stroke-width="0.8"/>
<line x1="369.5" y1="236.1" x2="382.7" y2="235.0" stroke="#444" stroke-width="0.8"/>
<path d="M369.0,232.5 L369.7,229.4 L384.2,227.7 L383.0,230.6 Z" fill="#fff" stroke="#1a1a1a" stroke-width="1.0" />
<line x1="370.9" y1="233.2" x2="384.3" y2="232.6" stroke="#333" stroke-width="0.9"/>
<line x1="371.0" y1="227.1" x2="385.7" y2="225.9" stroke="#333" stroke-width="0.9"/>
<line x1="369.3" y1="231.0" x2="383.6" y2="229.2" stroke="#444" stroke-width="0.8"/>
<line x1="371.0" y1="228.4" x2="385.5" y2="227.5" stroke="#444" stroke-width="0.8"/>
<path d="M371.8,223.9 L373.2,221.2 L388.7,221.0 L387.0,223.0 Z" fill="#fff" stroke="#1a1a1a" stroke-width="1.0" />
<line x1="372.8" y1="226.5" x2="387.3" y2="226.5" stroke="#333" stroke-width="0.9"/>
<line x1="374.8" y1="219.9" x2="390.2" y2="220.5" stroke="#333" stroke-width="0.9"/>
<line x1="372.4" y1="222.6" x2="387.9" y2="222.0" stroke="#444" stroke-width="0.8"/>
<line x1="374.3" y1="221.4" x2="389.6" y2="222.0" stroke="#444" stroke-width="0.8"/>
<path d="M376.3,217.2 L378.0,215.6 L393.7,218.1 L392.0,218.6 Z" fill="#fff" stroke="#1a1a1a" stroke-width="1.0" />
<line x1="376.1" y1="221.0" x2="391.1" y2="222.6" stroke="#333" stroke-width="0.9"/>
<line x1="379.4" y1="215.6" x2="394.8" y2="219.0" stroke="#333" stroke-width="0.9"/>
<line x1="377.1" y1="216.4" x2="392.8" y2="218.3" stroke="#444" stroke-width="0.8"/>
<line x1="378.7" y1="216.9" x2="393.9" y2="219.9" stroke="#444" stroke-width="0.8"/>
<path d="M381.2,214.1 L382.8,214.1 L397.8,219.6 L396.5,218.5 Z" fill="#fff" stroke="#1a1a1a" stroke-width="1.0" />
<line x1="379.9" y1="218.1" x2="394.7" y2="222.1" stroke="#333" stroke-width="0.9"/>
<line x1="383.7" y1="215.5" x2="398.2" y2="221.7" stroke="#333" stroke-width="0.9"/>
<line x1="382.0" y1="214.1" x2="397.1" y2="219.0" stroke="#444" stroke-width="0.8"/>
<line x1="382.8" y1="216.2" x2="397.3" y2="221.9" stroke="#444" stroke-width="0.8"/>
<path d="M414.3,202.6 L416.0,203.4 L417.7,204.5 L419.1,206.1 L420.4,208.0 L421.4,210.2 L422.3,212.7 L423.0,215.6 L423.4,218.7 L423.6,222.0 L423.6,225.5 L423.4,229.1 L422.9,232.9 L422.2,236.7 L421.3,240.5 L420.2,244.3 L418.9,248.1 L417.4,251.7 L415.8,255.2 L414.0,258.6 L412.1,261.7 L410.1,264.6 L408.0,267.1 L405.9,269.4 L403.7,271.3 L401.5,272.9 L399.4,274.1 L397.2,275.0 L395.2,275.4 L393.2,275.4 L391.3,275.0 L389.6,274.2 L387.9,273.1 L386.5,271.5 L385.2,269.6 L384.2,267.4 L383.3,264.9 L382.6,262.0 L382.2,258.9 L382.0,255.6 L382.0,252.1 L382.2,248.5 L382.7,244.7 L383.4,240.9 L384.3,237.1 L385.4,233.3 L386.7,229.5 L388.2,225.9 L389.8,222.4 L391.6,219.0 L393.5,215.9 L395.5,213.0 L397.6,210.5 L399.7,208.2 L401.9,206.3 L404.1,204.7 L406.2,203.5 L408.4,202.6 L410.4,202.2 L412.4,202.2 Z" fill="#fff" stroke="#1a1a1a" stroke-width="1.0" />
<path d="M413.3,205.6 L414.9,206.3 L416.4,207.4 L417.7,208.8 L418.9,210.6 L419.9,212.6 L420.7,214.9 L421.3,217.5 L421.7,220.4 L421.9,223.4 L421.9,226.6 L421.6,229.9 L421.2,233.4 L420.6,236.8 L419.7,240.4 L418.7,243.9 L417.5,247.3 L416.2,250.6 L414.7,253.9 L413.1,256.9 L411.3,259.8 L409.5,262.4 L407.6,264.7 L405.6,266.8 L403.6,268.6 L401.6,270.1 L399.7,271.2 L397.7,271.9 L395.8,272.3 L394.0,272.3 L392.3,272.0 L390.7,271.3 L389.2,270.2 L387.9,268.8 L386.7,267.0 L385.7,265.0 L384.9,262.7 L384.3,260.1 L383.9,257.2 L383.7,254.2 L383.7,251.0 L384.0,247.7 L384.4,244.2 L385.0,240.8 L385.9,237.2 L386.9,233.7 L388.1,230.3 L389.4,227.0 L390.9,223.7 L392.5,220.7 L394.3,217.8 L396.1,215.2 L398.0,212.9 L400.0,210.8 L402.0,209.0 L404.0,207.5 L405.9,206.4 L407.9,205.7 L409.8,205.3 L411.6,205.3 Z" fill="#fff" stroke="#1a1a1a" stroke-width="1.4" />
<path d="M408.5,207.1 L409.5,207.1 L410.5,207.1 L411.4,207.3 L412.2,207.6 L413.1,208.0 L413.9,208.5 L414.6,209.1 L415.4,209.8 L416.0,210.7 L416.6,211.6 L417.2,212.6 L417.7,213.7 L418.2,214.8 L418.6,216.1 L418.9,217.4 L419.2,218.8 L419.4,220.3 L419.6,221.9 L419.7,223.5 L419.7,225.1 L419.7,226.8 L419.6,228.6 L419.5,230.4 L419.3,232.2 L419.0,234.0 L418.7,235.8 L418.3,237.7 L417.8,239.5 L417.3,241.4 L416.8,243.2 L416.2,245.1 L415.5,246.9 L414.8,248.6 L414.0,250.4 L413.3,252.1 L412.4,253.7 L411.5,255.3 L410.6,256.8 L409.7,258.3 L408.8,259.7 L407.8,261.1 L406.8,262.3 L405.7,263.5 L404.7,264.6 L403.7,265.5 L402.6,266.4 L401.5,267.2 L400.5,267.9 L399.4,268.5 L398.4,269.0 L397.4,269.4 L396.4,269.7 L395.4,269.9 L394.4,269.9 L393.5,269.9 L392.5,269.7 L391.7,269.5 L390.8,269.1 L390.0,268.6 L389.2,268.0" fill="none" stroke="#444" stroke-width="0.9" />
<path d="M404.9,222.1 L405.7,222.4 L406.4,223.0 L407.1,223.7 L407.7,224.5 L408.1,225.5 L408.5,226.6 L408.8,227.9 L409.0,229.3 L409.1,230.8 L409.1,232.3 L409.0,234.0 L408.8,235.6 L408.5,237.3 L408.1,239.1 L407.6,240.8 L407.0,242.4 L406.3,244.1 L405.6,245.7 L404.8,247.1 L404.0,248.5 L403.1,249.8 L402.1,251.0 L401.2,252.0 L400.2,252.9 L399.2,253.6 L398.3,254.1 L397.3,254.5 L396.4,254.7 L395.5,254.7 L394.7,254.5 L393.9,254.2 L393.2,253.6 L392.5,252.9 L391.9,252.1 L391.5,251.1 L391.1,250.0 L390.8,248.7 L390.6,247.3 L390.5,245.8 L390.5,244.3 L390.6,242.6 L390.8,241.0 L391.1,239.3 L391.5,237.5 L392.0,235.8 L392.6,234.2 L393.3,232.5 L394.0,230.9 L394.8,229.5 L395.6,228.1 L396.5,226.8 L397.5,225.6 L398.4,224.6 L399.4,223.7 L400.4,223.0 L401.3,222.5 L402.3,222.1 L403.2,221.9 L404.1,221.9 Z" fill="none" stroke="#1a1a1a" stroke-width="1.5" />
<path d="M405.1,223.6 L405.5,223.8 L405.8,223.9 L406.1,224.1 L406.5,224.4 L406.8,224.7 L407.1,225.0 L407.3,225.4 L407.6,225.8 L407.8,226.3 L408.0,226.7 L408.2,227.2 L408.4,227.8 L408.5,228.4 L408.7,228.9 L408.8,229.6 L408.8,230.2 L408.9,230.9 L408.9,231.6 L408.9,232.3 L408.9,233.0 L408.9,233.7 L408.8,234.5 L408.7,235.3 L408.6,236.0 L408.5,236.8 L408.3,237.6 L408.2,238.4 L408.0,239.2 L407.7,240.0 L407.5,240.7 L407.3,241.5 L407.0,242.3 L406.7,243.0 L406.4,243.8 L406.0,244.5 L405.7,245.2 L405.3,245.9 L405.0,246.6 L404.6,247.2 L404.2,247.9 L403.8,248.5 L403.4,249.1 L403.0,249.6 L402.5,250.1 L402.1,250.6 L401.6,251.0 L401.2,251.5 L400.8,251.8 L400.3,252.2 L399.9,252.5 L399.4,252.8 L399.0,253.0 L398.5,253.2 L398.1,253.3 L397.7,253.4 L397.2,253.5 L396.8,253.5 L396.4,253.5 L396.0,253.4 L395.7,253.4" fill="none" stroke="#555" stroke-width="0.8" />
<path d="M404.3,226.8 L404.8,227.1 L405.4,227.4 L405.8,227.9 L406.2,228.6 L406.6,229.3 L406.9,230.1 L407.1,231.0 L407.2,232.0 L407.3,233.1 L407.3,234.2 L407.2,235.4 L407.1,236.6 L406.8,237.9 L406.5,239.1 L406.2,240.3 L405.8,241.5 L405.3,242.7 L404.8,243.9 L404.2,244.9 L403.6,246.0 L402.9,246.9 L402.3,247.7 L401.6,248.4 L400.9,249.1 L400.2,249.6 L399.5,250.0 L398.8,250.2 L398.1,250.4 L397.5,250.4 L396.8,250.3 L396.3,250.0 L395.8,249.6 L395.3,249.1 L394.9,248.5 L394.5,247.8 L394.2,247.0 L394.0,246.1 L393.9,245.1 L393.8,244.0 L393.8,242.9 L393.9,241.7 L394.1,240.5 L394.3,239.2 L394.6,238.0 L394.9,236.8 L395.4,235.5 L395.8,234.4 L396.4,233.2 L396.9,232.1 L397.5,231.1 L398.2,230.2 L398.9,229.4 L399.6,228.6 L400.3,228.0 L401.0,227.5 L401.7,227.1 L402.4,226.8 L403.0,226.7 L403.7,226.7 Z" fill="none" stroke="#1a1a1a" stroke-width="1.0" />
<path d="M402.9,231.2 L403.2,231.4 L403.6,231.6 L403.9,231.9 L404.1,232.3 L404.3,232.7 L404.5,233.3 L404.7,233.8 L404.7,234.5 L404.8,235.1 L404.8,235.8 L404.7,236.6 L404.6,237.3 L404.5,238.1 L404.3,238.9 L404.1,239.7 L403.8,240.4 L403.5,241.2 L403.2,241.9 L402.8,242.5 L402.4,243.2 L402.0,243.8 L401.6,244.3 L401.2,244.7 L400.7,245.1 L400.3,245.5 L399.9,245.7 L399.4,245.9 L399.0,246.0 L398.6,246.0 L398.2,245.9 L397.9,245.7 L397.6,245.5 L397.3,245.2 L397.0,244.8 L396.8,244.3 L396.6,243.8 L396.5,243.2 L396.4,242.6 L396.3,242.0 L396.3,241.2 L396.4,240.5 L396.5,239.7 L396.6,239.0 L396.8,238.2 L397.0,237.4 L397.3,236.7 L397.6,235.9 L397.9,235.2 L398.3,234.5 L398.7,233.9 L399.1,233.3 L399.5,232.8 L399.9,232.3 L400.4,231.9 L400.8,231.6 L401.3,231.4 L401.7,231.2 L402.1,231.1 L402.5,231.1 Z" fill="none" stroke="#1a1a1a" stroke-width="1.5" />
<path d="M314.7,285.1 L319.1,278.0 L319.9,279.3 L315.6,286.6 L315.8,287.9 L320.6,283.1 L320.5,285.5 L315.8,290.7 L315.4,292.7 L319.6,291.0 L318.7,294.1 L314.4,296.3 L313.5,298.6 L316.3,300.3 L314.7,303.5 L311.8,302.2 L310.5,304.2 L311.3,309.1 L309.4,311.7 L308.3,307.2 L306.9,308.6 L305.6,315.7 L303.7,317.2 L304.8,310.3 L303.6,310.9 L300.4,318.7 L298.9,318.8 L301.8,311.0 L301.0,310.5 L296.6,317.6 L295.8,316.3 L300.1,309.0 L299.8,307.6 L295.1,312.5 L295.1,310.1 L299.9,304.8 L300.2,302.8 L296.1,304.5 L296.9,301.4 L301.2,299.3 L302.1,297.0 L299.4,295.2 L300.9,292.1 L303.9,293.4 L305.2,291.3 L304.4,286.4 L306.3,283.9 L307.4,288.4 L308.7,287.0 L310.0,279.9 L311.9,278.4 L310.9,285.3 L312.1,284.7 L315.3,276.9 L316.8,276.8 L313.8,284.6 Z" fill="#fff" stroke="#1a1a1a" stroke-width="1.1" />
<path d="M314.7,285.1 L319.1,278.0 L327.1,282.0 L322.7,289.0 Z" fill="#fff" stroke="#666" stroke-width="0.6" />
<path d="M319.1,278.0 L319.9,279.3 L327.9,283.3 L327.1,282.0 Z" fill="#fff" stroke="#1a1a1a" stroke-width="0.9" />
<path d="M315.8,287.9 L320.6,283.1 L328.7,287.0 L323.9,291.9 Z" fill="#fff" stroke="#666" stroke-width="0.6" />
<path d="M320.6,283.1 L320.5,285.5 L328.6,289.5 L328.7,287.0 Z" fill="#fff" stroke="#1a1a1a" stroke-width="0.9" />
<path d="M315.4,292.7 L319.6,291.0 L327.7,295.0 L323.5,296.7 Z" fill="#fff" stroke="#666" stroke-width="0.6" />
<path d="M319.6,291.0 L318.7,294.1 L326.8,298.1 L327.7,295.0 Z" fill="#fff" stroke="#1a1a1a" stroke-width="0.9" />
<path d="M313.5,298.6 L316.3,300.3 L324.4,304.3 L321.6,302.5 Z" fill="#fff" stroke="#666" stroke-width="0.6" />
<path d="M316.3,300.3 L314.7,303.5 L322.8,307.4 L324.4,304.3 Z" fill="#fff" stroke="#1a1a1a" stroke-width="0.9" />
<path d="M310.5,304.2 L311.3,309.1 L319.4,313.1 L318.6,308.2 Z" fill="#fff" stroke="#666" stroke-width="0.6" />
<path d="M311.3,309.1 L309.4,311.7 L317.5,315.6 L319.4,313.1 Z" fill="#fff" stroke="#1a1a1a" stroke-width="0.9" />
<path d="M306.9,308.6 L305.6,315.7 L313.7,319.6 L315.0,312.6 Z" fill="#fff" stroke="#666" stroke-width="0.6" />
<path d="M305.6,315.7 L303.7,317.2 L311.8,321.1 L313.7,319.6 Z" fill="#fff" stroke="#1a1a1a" stroke-width="0.9" />
<path d="M303.6,310.9 L300.4,318.7 L308.5,322.6 L311.6,314.8 Z" fill="#fff" stroke="#666" stroke-width="0.6" />
<path d="M300.4,318.7 L298.9,318.8 L307.0,322.7 L308.5,322.6 Z" fill="#fff" stroke="#1a1a1a" stroke-width="0.9" />
<path d="M301.0,310.5 L296.6,317.6 L304.7,321.5 L309.1,314.5 Z" fill="#fff" stroke="#666" stroke-width="0.6" />
<path d="M296.6,317.6 L295.8,316.3 L303.9,320.2 L304.7,321.5 Z" fill="#fff" stroke="#1a1a1a" stroke-width="0.9" />
<path d="M299.8,307.6 L295.1,312.5 L303.2,316.5 L307.9,311.6 Z" fill="#fff" stroke="#666" stroke-width="0.6" />
<path d="M295.1,312.5 L295.1,310.1 L303.2,314.0 L303.2,316.5 Z" fill="#fff" stroke="#1a1a1a" stroke-width="0.9" />
<path d="M300.2,302.8 L296.1,304.5 L304.1,308.5 L308.3,306.8 Z" fill="#fff" stroke="#666" stroke-width="0.6" />
<path d="M296.1,304.5 L296.9,301.4 L305.0,305.4 L304.1,308.5 Z" fill="#fff" stroke="#1a1a1a" stroke-width="0.9" />
<path d="M302.1,297.0 L299.4,295.2 L307.5,299.2 L310.2,301.0 Z" fill="#fff" stroke="#666" stroke-width="0.6" />
<path d="M299.4,295.2 L300.9,292.1 L309.0,296.0 L307.5,299.2 Z" fill="#fff" stroke="#1a1a1a" stroke-width="0.9" />
<path d="M305.2,291.3 L304.4,286.4 L312.5,290.4 L313.3,295.3 Z" fill="#fff" stroke="#666" stroke-width="0.6" />
<path d="M304.4,286.4 L306.3,283.9 L314.4,287.8 L312.5,290.4 Z" fill="#fff" stroke="#1a1a1a" stroke-width="0.9" />
<path d="M308.7,287.0 L310.0,279.9 L318.1,283.8 L316.8,290.9 Z" fill="#fff" stroke="#666" stroke-width="0.6" />
<path d="M310.0,279.9 L311.9,278.4 L320.0,282.4 L318.1,283.8 Z" fill="#fff" stroke="#1a1a1a" stroke-width="0.9" />
<path d="M312.1,284.7 L315.3,276.9 L323.4,280.8 L320.2,288.7 Z" fill="#fff" stroke="#666" stroke-width="0.6" />
<path d="M315.3,276.9 L316.8,276.8 L324.9,280.7 L323.4,280.8 Z" fill="#fff" stroke="#1a1a1a" stroke-width="0.9" />
<path d="M322.7,289.0 L327.1,282.0 L327.9,283.3 L323.7,290.5 L323.9,291.9 L328.7,287.0 L328.6,289.5 L323.9,294.7 L323.5,296.7 L327.7,295.0 L326.8,298.1 L322.5,300.3 L321.6,302.5 L324.4,304.3 L322.8,307.4 L319.8,306.1 L318.6,308.2 L319.4,313.1 L317.5,315.6 L316.4,311.1 L315.0,312.6 L313.7,319.6 L311.8,321.1 L312.9,314.2 L311.6,314.8 L308.5,322.6 L307.0,322.7 L309.9,314.9 L309.1,314.5 L304.7,321.5 L303.9,320.2 L308.2,313.0 L307.9,311.6 L303.2,316.5 L303.2,314.0 L308.0,308.8 L308.3,306.8 L304.1,308.5 L305.0,305.4 L309.3,303.2 L310.2,301.0 L307.5,299.2 L309.0,296.0 L312.0,297.3 L313.3,295.3 L312.5,290.4 L314.4,287.8 L315.4,292.4 L316.8,290.9 L318.1,283.8 L320.0,282.4 L319.0,289.2 L320.2,288.7 L323.4,280.8 L324.9,280.7 L321.9,288.6 Z" fill="#fff" stroke="#1a1a1a" stroke-width="1.2000000000000002" />
<path d="M324.5,284.2 L325.1,284.6 L325.7,285.3 L326.1,286.1 L326.4,287.0 L326.7,288.2 L326.8,289.5 L326.7,290.9 L326.6,292.4 L326.3,294.1 L326.0,295.8 L325.5,297.6 L324.9,299.4 L324.2,301.3 L323.4,303.1 L322.6,305.0 L321.7,306.8 L320.7,308.6 L319.6,310.2 L318.5,311.8 L317.4,313.3 L316.3,314.7 L315.2,315.9 L314.0,316.9 L312.9,317.8 L311.9,318.5 L310.8,319.1 L309.9,319.4 L308.9,319.6 L308.1,319.5 L307.4,319.3 L306.7,318.8 L306.2,318.2 L305.7,317.4 L305.4,316.4 L305.2,315.3 L305.1,314.0 L305.1,312.6 L305.3,311.0 L305.5,309.4 L305.9,307.7 L306.4,305.9 L306.9,304.1 L307.6,302.2 L308.4,300.3 L309.3,298.5 L310.2,296.7 L311.2,294.9 L312.2,293.2 L313.3,291.6 L314.4,290.2 L315.6,288.8 L316.7,287.6 L317.8,286.5 L318.9,285.6 L320.0,284.9 L321.0,284.4 L322.0,284.1 L322.9,283.9 L323.7,284.0 Z" fill="#fff" stroke="#1a1a1a" stroke-width="0.9" />
<path d="M323.4,286.5 L322.7,286.2 L322.0,286.2 L321.2,286.3 L320.4,286.6 L319.5,287.1 L318.5,287.7 L317.6,288.5 L316.6,289.4 L315.6,290.5 L314.6,291.6 L313.7,292.9 L312.7,294.3 L311.8,295.8 L310.9,297.3 L310.1,298.9 L309.4,300.5 L308.7,302.1 L308.1,303.8 L307.6,305.4 L307.2,306.9 L306.8,308.4 L306.6,309.9 L306.5,311.2 L306.5,312.4 L306.6,313.5 L306.8,314.5 L307.0,315.4 L307.4,316.1 L307.9,316.6 L308.5,317.0 L316.1,320.7 L316.8,321.0 L317.5,321.0 L318.3,320.9 L319.1,320.6 L320.0,320.1 L320.9,319.5 L321.9,318.7 L322.9,317.8 L323.9,316.7 L324.9,315.6 L325.8,314.3 L326.8,312.9 L327.7,311.4 L328.6,309.9 L329.4,308.3 L330.1,306.7 L330.8,305.1 L331.4,303.4 L331.9,301.8 L332.3,300.3 L332.6,298.8 L332.9,297.3 L333.0,296.0 L333.0,294.8 L332.9,293.6 L332.7,292.7 L332.4,291.8 L332.1,291.1 L331.6,290.6 L331.0,290.2 Z" fill="#fff" stroke="#1a1a1a" stroke-width="0.9" />
<path d="M331.0,290.2 L331.6,290.6 L332.1,291.1 L332.4,291.8 L332.7,292.7 L332.9,293.6 L333.0,294.8 L333.0,296.0 L332.9,297.3 L332.6,298.8 L332.3,300.3 L331.9,301.8 L331.4,303.4 L330.8,305.1 L330.1,306.7 L329.4,308.3 L328.6,309.9 L327.7,311.4 L326.8,312.9 L325.8,314.3 L324.9,315.6 L323.9,316.7 L322.9,317.8 L321.9,318.7 L320.9,319.5 L320.0,320.1 L319.1,320.6 L318.3,320.9 L317.5,321.0 L316.8,321.0 L316.1,320.7 L315.5,320.4 L315.1,319.8 L314.7,319.1 L314.4,318.3 L314.2,317.3 L314.1,316.2 L314.1,314.9 L314.3,313.6 L314.5,312.1 L314.8,310.6 L315.2,309.1 L315.7,307.5 L316.3,305.9 L317.0,304.2 L317.8,302.6 L318.6,301.0 L319.4,299.5 L320.3,298.0 L321.3,296.7 L322.3,295.4 L323.2,294.2 L324.2,293.1 L325.2,292.2 L326.2,291.4 L327.1,290.8 L328.0,290.3 L328.9,290.1 L329.6,289.9 L330.4,290.0 Z" fill="#fff" stroke="#1a1a1a" stroke-width="0.9" />
<path d="M331.2,289.7 L333.7,285.4 L334.6,286.2 L332.3,290.7 L332.8,291.7 L335.6,288.2 L335.9,289.8 L333.2,293.7 L333.3,295.3 L336.0,293.1 L335.8,295.3 L333.0,298.2 L332.6,300.1 L334.9,299.4 L334.2,302.1 L331.6,303.5 L330.8,305.6 L332.5,306.5 L331.2,309.2 L329.2,309.0 L328.1,311.1 L329.0,313.5 L327.4,315.9 L326.2,314.1 L324.9,315.8 L324.8,319.5 L323.1,321.3 L322.8,318.2 L321.5,319.4 L320.4,323.8 L318.9,324.8 L319.5,320.7 L318.4,321.2 L316.5,325.9 L315.2,326.0 L316.8,321.4 L315.9,321.2 L313.4,325.5 L312.5,324.7 L314.8,320.2 L314.3,319.2 L311.5,322.7 L311.2,321.1 L313.9,317.2 L313.8,315.6 L311.1,317.9 L311.3,315.6 L314.1,312.7 L314.6,310.8 L312.2,311.5 L313.0,308.9 L315.5,307.4 L316.3,305.3 L314.6,304.4 L315.9,301.7 L317.9,301.9 L319.0,299.9 L318.2,297.5 L319.7,295.0 L321.0,296.8 L322.2,295.1 L322.4,291.5 L324.0,289.6 L324.3,292.7 L325.6,291.5 L326.7,287.1 L328.3,286.1 L327.6,290.2 L328.7,289.7 L330.6,285.0 L331.9,284.9 L330.4,289.5 Z" fill="#fff" stroke="#1a1a1a" stroke-width="1.1" />
<path d="M331.2,289.7 L333.7,285.4 L344.1,290.5 L341.6,294.8 Z" fill="#fff" stroke="#666" stroke-width="0.6" />
<path d="M333.7,285.4 L334.6,286.2 L344.9,291.2 L344.1,290.5 Z" fill="#fff" stroke="#1a1a1a" stroke-width="0.9" />
<path d="M332.8,291.7 L335.6,288.2 L345.9,293.2 L343.2,296.7 Z" fill="#fff" stroke="#666" stroke-width="0.6" />
<path d="M335.6,288.2 L335.9,289.8 L346.3,294.9 L345.9,293.2 Z" fill="#fff" stroke="#1a1a1a" stroke-width="0.9" />
<path d="M333.3,295.3 L336.0,293.1 L346.4,298.1 L343.6,300.3 Z" fill="#fff" stroke="#666" stroke-width="0.6" />
<path d="M336.0,293.1 L335.8,295.3 L346.1,300.4 L346.4,298.1 Z" fill="#fff" stroke="#1a1a1a" stroke-width="0.9" />
<path d="M332.6,300.1 L334.9,299.4 L345.3,304.5 L342.9,305.2 Z" fill="#fff" stroke="#666" stroke-width="0.6" />
<path d="M334.9,299.4 L334.2,302.1 L344.5,307.1 L345.3,304.5 Z" fill="#fff" stroke="#1a1a1a" stroke-width="0.9" />
<path d="M330.8,305.6 L332.5,306.5 L342.8,311.5 L341.1,310.6 Z" fill="#fff" stroke="#666" stroke-width="0.6" />
<path d="M332.5,306.5 L331.2,309.2 L341.6,314.2 L342.8,311.5 Z" fill="#fff" stroke="#1a1a1a" stroke-width="0.9" />
<path d="M328.1,311.1 L329.0,313.5 L339.3,318.5 L338.5,316.1 Z" fill="#fff" stroke="#666" stroke-width="0.6" />
<path d="M329.0,313.5 L327.4,315.9 L337.7,320.9 L339.3,318.5 Z" fill="#fff" stroke="#1a1a1a" stroke-width="0.9" />
<path d="M324.9,315.8 L324.8,319.5 L335.1,324.5 L335.2,320.9 Z" fill="#fff" stroke="#666" stroke-width="0.6" />
<path d="M324.8,319.5 L323.1,321.3 L333.4,326.4 L335.1,324.5 Z" fill="#fff" stroke="#1a1a1a" stroke-width="0.9" />
<path d="M321.5,319.4 L320.4,323.8 L330.8,328.8 L331.9,324.4 Z" fill="#fff" stroke="#666" stroke-width="0.6" />
<path d="M320.4,323.8 L318.9,324.8 L329.2,329.9 L330.8,328.8 Z" fill="#fff" stroke="#1a1a1a" stroke-width="0.9" />
<path d="M318.4,321.2 L316.5,325.9 L326.8,330.9 L328.7,326.3 Z" fill="#fff" stroke="#666" stroke-width="0.6" />
<path d="M316.5,325.9 L315.2,326.0 L325.5,331.1 L326.8,330.9 Z" fill="#fff" stroke="#1a1a1a" stroke-width="0.9" />
<path d="M315.9,321.2 L313.4,325.5 L323.7,330.5 L326.2,326.2 Z" fill="#fff" stroke="#666" stroke-width="0.6" />
<path d="M313.4,325.5 L312.5,324.7 L322.9,329.8 L323.7,330.5 Z" fill="#fff" stroke="#1a1a1a" stroke-width="0.9" />
<path d="M314.3,319.2 L311.5,322.7 L321.9,327.8 L324.6,324.3 Z" fill="#fff" stroke="#666" stroke-width="0.6" />
<path d="M311.5,322.7 L311.2,321.1 L321.5,326.1 L321.9,327.8 Z" fill="#fff" stroke="#1a1a1a" stroke-width="0.9" />
<path d="M313.8,315.6 L311.1,317.9 L321.4,322.9 L324.2,320.7 Z" fill="#fff" stroke="#666" stroke-width="0.6" />
<path d="M311.1,317.9 L311.3,315.6 L321.7,320.6 L321.4,322.9 Z" fill="#fff" stroke="#1a1a1a" stroke-width="0.9" />
<path d="M314.6,310.8 L312.2,311.5 L322.5,316.5 L324.9,315.8 Z" fill="#fff" stroke="#666" stroke-width="0.6" />
<path d="M312.2,311.5 L313.0,308.9 L323.3,313.9 L322.5,316.5 Z" fill="#fff" stroke="#1a1a1a" stroke-width="0.9" />
<path d="M316.3,305.3 L314.6,304.4 L325.0,309.5 L326.7,310.4 Z" fill="#fff" stroke="#666" stroke-width="0.6" />
<path d="M314.6,304.4 L315.9,301.7 L326.2,306.8 L325.0,309.5 Z" fill="#fff" stroke="#1a1a1a" stroke-width="0.9" />
<path d="M319.0,299.9 L318.2,297.5 L328.5,302.5 L329.3,304.9 Z" fill="#fff" stroke="#666" stroke-width="0.6" />
<path d="M318.2,297.5 L319.7,295.0 L330.1,300.1 L328.5,302.5 Z" fill="#fff" stroke="#1a1a1a" stroke-width="0.9" />
<path d="M322.2,295.1 L322.4,291.5 L332.7,296.5 L332.6,300.1 Z" fill="#fff" stroke="#666" stroke-width="0.6" />
<path d="M322.4,291.5 L324.0,289.6 L334.4,294.6 L332.7,296.5 Z" fill="#fff" stroke="#1a1a1a" stroke-width="0.9" />
<path d="M325.6,291.5 L326.7,287.1 L337.0,292.2 L335.9,296.6 Z" fill="#fff" stroke="#666" stroke-width="0.6" />
<path d="M326.7,287.1 L328.3,286.1 L338.6,291.1 L337.0,292.2 Z" fill="#fff" stroke="#1a1a1a" stroke-width="0.9" />
<path d="M328.7,289.7 L330.6,285.0 L341.0,290.1 L339.1,294.7 Z" fill="#fff" stroke="#666" stroke-width="0.6" />
<path d="M330.6,285.0 L331.9,284.9 L342.3,289.9 L341.0,290.1 Z" fill="#fff" stroke="#1a1a1a" stroke-width="0.9" />
<path d="M341.6,294.8 L344.1,290.5 L344.9,291.2 L342.7,295.8 L343.2,296.7 L345.9,293.2 L346.3,294.9 L343.6,298.8 L343.6,300.3 L346.4,298.1 L346.1,300.4 L343.3,303.2 L342.9,305.2 L345.3,304.5 L344.5,307.1 L341.9,308.5 L341.1,310.6 L342.8,311.5 L341.6,314.2 L339.6,314.1 L338.5,316.1 L339.3,318.5 L337.7,320.9 L336.5,319.2 L335.2,320.9 L335.1,324.5 L333.4,326.4 L333.1,323.3 L331.9,324.4 L330.8,328.8 L329.2,329.9 L329.9,325.8 L328.7,326.3 L326.8,330.9 L325.5,331.1 L327.1,326.5 L326.2,326.2 L323.7,330.5 L322.9,329.8 L325.1,325.2 L324.6,324.3 L321.9,327.8 L321.5,326.1 L324.2,322.2 L324.2,320.7 L321.4,322.9 L321.7,320.6 L324.5,317.8 L324.9,315.8 L322.5,316.5 L323.3,313.9 L325.9,312.5 L326.7,310.4 L325.0,309.5 L326.2,306.8 L328.2,306.9 L329.3,304.9 L328.5,302.5 L330.1,300.1 L331.3,301.8 L332.6,300.1 L332.7,296.5 L334.4,294.6 L334.7,297.7 L335.9,296.6 L337.0,292.2 L338.6,291.1 L337.9,295.2 L339.1,294.7 L341.0,290.1 L342.3,289.9 L340.7,294.5 Z" fill="#fff" stroke="#1a1a1a" stroke-width="1.2000000000000002" />
<path d="M337.3,303.5 L337.6,303.7 L337.8,303.9 L338.0,304.2 L338.1,304.6 L338.2,305.1 L338.2,305.6 L338.2,306.2 L338.2,306.8 L338.1,307.4 L337.9,308.1 L337.7,308.8 L337.5,309.6 L337.2,310.3 L336.9,311.1 L336.6,311.8 L336.2,312.5 L335.8,313.2 L335.4,313.9 L334.9,314.5 L334.5,315.1 L334.0,315.7 L333.6,316.2 L333.1,316.6 L332.7,316.9 L332.3,317.2 L331.9,317.4 L331.5,317.6 L331.1,317.6 L330.8,317.6 L330.5,317.5 L330.2,317.3 L330.0,317.1 L329.8,316.8 L329.7,316.4 L329.6,315.9 L329.6,315.4 L329.6,314.8 L329.6,314.2 L329.7,313.6 L329.9,312.9 L330.1,312.2 L330.3,311.4 L330.6,310.7 L330.9,309.9 L331.2,309.2 L331.6,308.5 L332.0,307.8 L332.4,307.1 L332.9,306.5 L333.3,305.9 L333.8,305.3 L334.2,304.8 L334.7,304.4 L335.1,304.1 L335.5,303.8 L335.9,303.6 L336.3,303.4 L336.7,303.4 L337.0,303.4 Z" fill="none" stroke="#1a1a1a" stroke-width="1.2" />
<path d="M287.5,342.5 L291.5,335.6 L292.3,336.1 L289.0,343.5 L289.6,344.0 L293.9,337.5 L294.5,338.2 L290.9,345.6 L291.4,346.3 L295.8,340.2 L296.3,341.2 L292.4,348.4 L292.7,349.3 L297.2,343.8 L297.5,345.0 L293.4,351.9 L293.6,353.0 L298.1,348.0 L298.3,349.4 L294.0,356.0 L294.1,357.3 L298.5,353.0 L298.5,354.6 L294.1,360.7 L294.1,362.2 L298.4,358.6 L298.2,360.4 L293.8,365.9 L293.6,367.6 L297.7,364.7 L297.4,366.6 L293.0,371.7 L292.6,373.5 L296.6,371.3 L296.1,373.4 L291.7,377.8 L291.3,379.7 L294.9,378.3 L294.3,380.5 L290.0,384.2 L289.5,386.2 L292.8,385.7 L292.1,387.9 L287.9,390.8 L287.2,392.9 L290.2,393.2 L289.4,395.5 L285.5,397.7 L284.7,399.7 L287.3,400.9 L286.3,403.2 L282.6,404.5 L281.7,406.6 L283.9,408.6 L282.8,410.9 L279.5,411.4 L278.5,413.4 L280.2,416.2 L279.1,418.4 L276.1,418.1 L275.0,420.1 L276.2,423.6 L275.0,425.8 L272.4,424.7 L271.2,426.6 L272.0,430.8 L270.7,432.9 L268.5,431.0 L267.3,432.8 L267.6,437.7 L266.3,439.6 L264.5,436.9 L263.3,438.6 L263.1,444.1 L261.7,445.9 L260.4,442.4 L259.2,443.9 L258.5,449.9 L257.1,451.6 L256.3,447.4 L255.1,448.8 L253.9,455.2 L252.5,456.7 L252.2,451.8 L251.0,453.0 L249.3,459.9 L248.0,461.1 L248.2,455.7 L247.0,456.7 L244.9,463.8 L243.5,464.8 L244.2,458.8 L243.1,459.6 L240.5,466.9 L239.3,467.7 L240.5,461.3 L239.4,461.9 L236.4,469.3 L235.3,469.8 L236.9,463.0 L235.9,463.4 L232.6,470.8 L231.5,471.1 L233.6,464.0 L232.7,464.1 L229.1,471.4 L228.1,471.5 L230.6,464.2 L229.8,464.1 L225.9,471.2 L225.0,471.0 L227.9,463.6 L227.2,463.3 L223.1,470.2 L222.4,469.7 L225.7,462.3 L225.0,461.7 L220.8,468.2 L220.2,467.5 L223.8,460.2 L223.3,459.4 L218.9,465.5 L218.4,464.5 L222.3,457.4 L221.9,456.4 L217.5,462.0 L217.2,460.8 L221.2,453.9 L221.0,452.7 L216.6,457.7 L216.4,456.3 L220.7,449.8 L220.6,448.4 L216.2,452.8 L216.2,451.2 L220.6,445.1 L220.6,443.5 L216.3,447.2 L216.5,445.4 L220.9,439.8 L221.1,438.1 L217.0,441.0 L217.3,439.1 L221.7,434.1 L222.0,432.3 L218.1,434.4 L218.6,432.4 L222.9,428.0 L223.4,426.1 L219.8,427.4 L220.3,425.2 L224.6,421.6 L225.2,419.6 L221.9,420.1 L222.6,417.8 L226.7,414.9 L227.4,412.9 L224.4,412.5 L225.3,410.3 L229.2,408.1 L230.0,406.0 L227.4,404.9 L228.4,402.6 L232.0,401.2 L233.0,399.2 L230.8,397.2 L231.8,394.9 L235.2,394.4 L236.2,392.3 L234.4,389.6 L235.6,387.3 L238.6,387.6 L239.7,385.6 L238.4,382.1 L239.7,379.9 L242.3,381.1 L243.4,379.2 L242.6,374.9 L243.9,372.8 L246.1,374.8 L247.3,373.0 L247.0,368.1 L248.4,366.1 L250.1,368.9 L251.4,367.2 L251.6,361.7 L252.9,359.9 L254.2,363.4 L255.5,361.8 L256.2,355.8 L257.5,354.2 L258.3,358.4 L259.6,357.0 L260.8,350.5 L262.1,349.1 L262.5,353.9 L263.7,352.7 L265.3,345.9 L266.7,344.6 L266.5,350.1 L267.7,349.1 L269.8,342.0 L271.1,340.9 L270.4,346.9 L271.6,346.1 L274.1,338.8 L275.4,338.0 L274.2,344.5 L275.3,343.9 L278.2,336.5 L279.4,335.9 L277.8,342.7 L278.8,342.4 L282.1,335.0 L283.2,334.7 L281.1,341.8 L282.0,341.6 L285.6,334.3 L286.6,334.3 L284.1,341.6 L284.9,341.7 L288.8,334.5 L289.6,334.8 L286.7,342.1 Z" fill="#fff" stroke="#1a1a1a" stroke-width="1.1" />
<path d="M287.5,342.5 L291.5,335.6 L297.8,338.7 L293.7,345.6 Z" fill="#fff" stroke="#333" stroke-width="0.7" />
<path d="M291.5,335.6 L292.3,336.1 L298.6,339.2 L297.8,338.7 Z" fill="#fff" stroke="#1a1a1a" stroke-width="0.9" />
<path d="M289.6,344.0 L293.9,337.5 L300.2,340.6 L295.9,347.2 Z" fill="#fff" stroke="#333" stroke-width="0.7" />
<path d="M293.9,337.5 L294.5,338.2 L300.8,341.4 L300.2,340.6 Z" fill="#fff" stroke="#1a1a1a" stroke-width="0.9" />
<path d="M291.4,346.3 L295.8,340.2 L302.0,343.4 L297.7,349.5 Z" fill="#fff" stroke="#333" stroke-width="0.7" />
<path d="M295.8,340.2 L296.3,341.2 L302.5,344.3 L302.0,343.4 Z" fill="#fff" stroke="#1a1a1a" stroke-width="0.9" />
<path d="M292.7,349.3 L297.2,343.8 L303.4,346.9 L299.0,352.5 Z" fill="#fff" stroke="#333" stroke-width="0.7" />
<path d="M297.2,343.8 L297.5,345.0 L303.8,348.1 L303.4,346.9 Z" fill="#fff" stroke="#1a1a1a" stroke-width="0.9" />
<path d="M293.6,353.0 L298.1,348.0 L304.4,351.1 L299.9,356.1 Z" fill="#fff" stroke="#333" stroke-width="0.7" />
<path d="M298.1,348.0 L298.3,349.4 L304.5,352.6 L304.4,351.1 Z" fill="#fff" stroke="#1a1a1a" stroke-width="0.9" />
<path d="M294.1,357.3 L298.5,353.0 L304.7,356.1 L300.4,360.5 Z" fill="#fff" stroke="#333" stroke-width="0.7" />
<path d="M298.5,353.0 L298.5,354.6 L304.8,357.7 L304.7,356.1 Z" fill="#fff" stroke="#1a1a1a" stroke-width="0.9" />
<path d="M294.1,362.2 L298.4,358.6 L304.6,361.7 L300.3,365.3 Z" fill="#fff" stroke="#333" stroke-width="0.7" />
<path d="M298.4,358.6 L298.2,360.4 L304.5,363.5 L304.6,361.7 Z" fill="#fff" stroke="#1a1a1a" stroke-width="0.9" />
<path d="M293.6,367.6 L297.7,364.7 L304.0,367.8 L299.8,370.7 Z" fill="#fff" stroke="#333" stroke-width="0.7" />
<path d="M297.7,364.7 L297.4,366.6 L303.7,369.8 L304.0,367.8 Z" fill="#fff" stroke="#1a1a1a" stroke-width="0.9" />
<path d="M292.6,373.5 L296.6,371.3 L302.8,374.4 L298.9,376.6 Z" fill="#fff" stroke="#333" stroke-width="0.7" />
<path d="M296.6,371.3 L296.1,373.4 L302.4,376.5 L302.8,374.4 Z" fill="#fff" stroke="#1a1a1a" stroke-width="0.9" />
<path d="M291.3,379.7 L294.9,378.3 L301.2,381.5 L297.5,382.8 Z" fill="#fff" stroke="#333" stroke-width="0.7" />
<path d="M294.9,378.3 L294.3,380.5 L300.6,383.6 L301.2,381.5 Z" fill="#fff" stroke="#1a1a1a" stroke-width="0.9" />
<path d="M289.5,386.2 L292.8,385.7 L299.1,388.8 L295.7,389.3 Z" fill="#fff" stroke="#333" stroke-width="0.7" />
<path d="M292.8,385.7 L292.1,387.9 L298.3,391.0 L299.1,388.8 Z" fill="#fff" stroke="#1a1a1a" stroke-width="0.9" />
<path d="M287.2,392.9 L290.2,393.2 L296.5,396.3 L293.5,396.0 Z" fill="#fff" stroke="#333" stroke-width="0.7" />
<path d="M290.2,393.2 L289.4,395.5 L295.7,398.6 L296.5,396.3 Z" fill="#fff" stroke="#1a1a1a" stroke-width="0.9" />
<path d="M284.7,399.7 L287.3,400.9 L293.5,404.0 L290.9,402.8 Z" fill="#fff" stroke="#333" stroke-width="0.7" />
<path d="M287.3,400.9 L286.3,403.2 L292.6,406.3 L293.5,404.0 Z" fill="#fff" stroke="#1a1a1a" stroke-width="0.9" />
<path d="M281.7,406.6 L283.9,408.6 L290.2,411.7 L288.0,409.7 Z" fill="#fff" stroke="#333" stroke-width="0.7" />
<path d="M283.9,408.6 L282.8,410.9 L289.1,414.0 L290.2,411.7 Z" fill="#fff" stroke="#1a1a1a" stroke-width="0.9" />
<path d="M278.5,413.4 L280.2,416.2 L286.5,419.3 L284.7,416.5 Z" fill="#fff" stroke="#333" stroke-width="0.7" />
<path d="M280.2,416.2 L279.1,418.4 L285.3,421.6 L286.5,419.3 Z" fill="#fff" stroke="#1a1a1a" stroke-width="0.9" />
<path d="M275.0,420.1 L276.2,423.6 L282.5,426.8 L281.2,423.2 Z" fill="#fff" stroke="#333" stroke-width="0.7" />
<path d="M276.2,423.6 L275.0,425.8 L281.3,428.9 L282.5,426.8 Z" fill="#fff" stroke="#1a1a1a" stroke-width="0.9" />
<path d="M271.2,426.6 L272.0,430.8 L278.3,433.9 L277.5,429.7 Z" fill="#fff" stroke="#333" stroke-width="0.7" />
<path d="M272.0,430.8 L270.7,432.9 L277.0,436.0 L278.3,433.9 Z" fill="#fff" stroke="#1a1a1a" stroke-width="0.9" />
<path d="M267.3,432.8 L267.6,437.7 L273.9,440.8 L273.6,435.9 Z" fill="#fff" stroke="#333" stroke-width="0.7" />
<path d="M267.6,437.7 L266.3,439.6 L272.6,442.8 L273.9,440.8 Z" fill="#fff" stroke="#1a1a1a" stroke-width="0.9" />
<path d="M263.3,438.6 L263.1,444.1 L269.4,447.2 L269.6,441.7 Z" fill="#fff" stroke="#333" stroke-width="0.7" />
<path d="M263.1,444.1 L261.7,445.9 L268.0,449.0 L269.4,447.2 Z" fill="#fff" stroke="#1a1a1a" stroke-width="0.9" />
<path d="M259.2,443.9 L258.5,449.9 L264.8,453.1 L265.5,447.1 Z" fill="#fff" stroke="#333" stroke-width="0.7" />
<path d="M258.5,449.9 L257.1,451.6 L263.4,454.7 L264.8,453.1 Z" fill="#fff" stroke="#1a1a1a" stroke-width="0.9" />
<path d="M255.1,448.8 L253.9,455.2 L260.2,458.4 L261.4,451.9 Z" fill="#fff" stroke="#333" stroke-width="0.7" />
<path d="M253.9,455.2 L252.5,456.7 L258.8,459.8 L260.2,458.4 Z" fill="#fff" stroke="#1a1a1a" stroke-width="0.9" />
<path d="M251.0,453.0 L249.3,459.9 L255.6,463.0 L257.3,456.2 Z" fill="#fff" stroke="#333" stroke-width="0.7" />
<path d="M249.3,459.9 L248.0,461.1 L254.2,464.2 L255.6,463.0 Z" fill="#fff" stroke="#1a1a1a" stroke-width="0.9" />
<path d="M247.0,456.7 L244.9,463.8 L251.1,466.9 L253.2,459.8 Z" fill="#fff" stroke="#333" stroke-width="0.7" />
<path d="M244.9,463.8 L243.5,464.8 L249.8,467.9 L251.1,466.9 Z" fill="#fff" stroke="#1a1a1a" stroke-width="0.9" />
<path d="M243.1,459.6 L240.5,466.9 L246.8,470.1 L249.3,462.8 Z" fill="#fff" stroke="#333" stroke-width="0.7" />
<path d="M240.5,466.9 L239.3,467.7 L245.6,470.8 L246.8,470.1 Z" fill="#fff" stroke="#1a1a1a" stroke-width="0.9" />
<path d="M239.4,461.9 L236.4,469.3 L242.7,472.4 L245.6,465.0 Z" fill="#fff" stroke="#333" stroke-width="0.7" />
<path d="M236.4,469.3 L235.3,469.8 L241.5,472.9 L242.7,472.4 Z" fill="#fff" stroke="#1a1a1a" stroke-width="0.9" />
<path d="M235.9,463.4 L232.6,470.8 L238.9,473.9 L242.2,466.5 Z" fill="#fff" stroke="#333" stroke-width="0.7" />
<path d="M232.6,470.8 L231.5,471.1 L237.8,474.2 L238.9,473.9 Z" fill="#fff" stroke="#1a1a1a" stroke-width="0.9" />
<path d="M232.7,464.1 L229.1,471.4 L235.3,474.6 L238.9,467.2 Z" fill="#fff" stroke="#333" stroke-width="0.7" />
<path d="M229.1,471.4 L228.1,471.5 L234.3,474.6 L235.3,474.6 Z" fill="#fff" stroke="#1a1a1a" stroke-width="0.9" />
<path d="M229.8,464.1 L225.9,471.2 L232.2,474.4 L236.0,467.2 Z" fill="#fff" stroke="#333" stroke-width="0.7" />
<path d="M225.9,471.2 L225.0,471.0 L231.3,474.1 L232.2,474.4 Z" fill="#fff" stroke="#1a1a1a" stroke-width="0.9" />
<path d="M227.2,463.3 L223.1,470.2 L229.4,473.3 L233.5,466.4 Z" fill="#fff" stroke="#333" stroke-width="0.7" />
<path d="M223.1,470.2 L222.4,469.7 L228.6,472.8 L229.4,473.3 Z" fill="#fff" stroke="#1a1a1a" stroke-width="0.9" />
<path d="M225.0,461.7 L220.8,468.2 L227.0,471.4 L231.3,464.8 Z" fill="#fff" stroke="#333" stroke-width="0.7" />
<path d="M220.8,468.2 L220.2,467.5 L226.4,470.6 L227.0,471.4 Z" fill="#fff" stroke="#1a1a1a" stroke-width="0.9" />
<path d="M223.3,459.4 L218.9,465.5 L225.2,468.6 L229.5,462.5 Z" fill="#fff" stroke="#333" stroke-width="0.7" />
<path d="M218.9,465.5 L218.4,464.5 L224.7,467.7 L225.2,468.6 Z" fill="#fff" stroke="#1a1a1a" stroke-width="0.9" />
<path d="M221.9,456.4 L217.5,462.0 L223.8,465.1 L228.2,459.5 Z" fill="#fff" stroke="#333" stroke-width="0.7" />
<path d="M217.5,462.0 L217.2,460.8 L223.4,463.9 L223.8,465.1 Z" fill="#fff" stroke="#1a1a1a" stroke-width="0.9" />
<path d="M221.0,452.7 L216.6,457.7 L222.8,460.9 L227.3,455.9 Z" fill="#fff" stroke="#333" stroke-width="0.7" />
<path d="M216.6,457.7 L216.4,456.3 L222.7,459.4 L222.8,460.9 Z" fill="#fff" stroke="#1a1a1a" stroke-width="0.9" />
<path d="M220.6,448.4 L216.2,452.8 L222.5,455.9 L226.8,451.5 Z" fill="#fff" stroke="#333" stroke-width="0.7" />
<path d="M216.2,452.8 L216.2,451.2 L222.4,454.3 L222.5,455.9 Z" fill="#fff" stroke="#1a1a1a" stroke-width="0.9" />
<path d="M220.6,443.5 L216.3,447.2 L222.6,450.3 L226.9,446.7 Z" fill="#fff" stroke="#333" stroke-width="0.7" />
<path d="M216.3,447.2 L216.5,445.4 L222.7,448.5 L222.6,450.3 Z" fill="#fff" stroke="#1a1a1a" stroke-width="0.9" />
<path d="M221.1,438.1 L217.0,441.0 L223.2,444.2 L227.4,441.3 Z" fill="#fff" stroke="#333" stroke-width="0.7" />
<path d="M217.0,441.0 L217.3,439.1 L223.5,442.2 L223.2,444.2 Z" fill="#fff" stroke="#1a1a1a" stroke-width="0.9" />
<path d="M222.0,432.3 L218.1,434.4 L224.4,437.6 L228.3,435.4 Z" fill="#fff" stroke="#333" stroke-width="0.7" />
<path d="M218.1,434.4 L218.6,432.4 L224.8,435.5 L224.4,437.6 Z" fill="#fff" stroke="#1a1a1a" stroke-width="0.9" />
<path d="M223.4,426.1 L219.8,427.4 L226.0,430.5 L229.7,429.2 Z" fill="#fff" stroke="#333" stroke-width="0.7" />
<path d="M219.8,427.4 L220.3,425.2 L226.6,428.4 L226.0,430.5 Z" fill="#fff" stroke="#1a1a1a" stroke-width="0.9" />
<path d="M225.2,419.6 L221.9,420.1 L228.1,423.2 L231.5,422.7 Z" fill="#fff" stroke="#333" stroke-width="0.7" />
<path d="M221.9,420.1 L222.6,417.8 L228.9,421.0 L228.1,423.2 Z" fill="#fff" stroke="#1a1a1a" stroke-width="0.9" />
<path d="M227.4,412.9 L224.4,412.5 L230.7,415.7 L233.7,416.0 Z" fill="#fff" stroke="#333" stroke-width="0.7" />
<path d="M224.4,412.5 L225.3,410.3 L231.5,413.4 L230.7,415.7 Z" fill="#fff" stroke="#1a1a1a" stroke-width="0.9" />
<path d="M230.0,406.0 L227.4,404.9 L233.7,408.0 L236.3,409.2 Z" fill="#fff" stroke="#333" stroke-width="0.7" />
<path d="M227.4,404.9 L228.4,402.6 L234.6,405.7 L233.7,408.0 Z" fill="#fff" stroke="#1a1a1a" stroke-width="0.9" />
<path d="M233.0,399.2 L230.8,397.2 L237.0,400.3 L239.2,402.3 Z" fill="#fff" stroke="#333" stroke-width="0.7" />
<path d="M230.8,397.2 L231.8,394.9 L238.1,398.0 L237.0,400.3 Z" fill="#fff" stroke="#1a1a1a" stroke-width="0.9" />
<path d="M236.2,392.3 L234.4,389.6 L240.7,392.7 L242.5,395.5 Z" fill="#fff" stroke="#333" stroke-width="0.7" />
<path d="M234.4,389.6 L235.6,387.3 L241.9,390.4 L240.7,392.7 Z" fill="#fff" stroke="#1a1a1a" stroke-width="0.9" />
<path d="M239.7,385.6 L238.4,382.1 L244.7,385.2 L246.0,388.8 Z" fill="#fff" stroke="#333" stroke-width="0.7" />
<path d="M238.4,382.1 L239.7,379.9 L245.9,383.1 L244.7,385.2 Z" fill="#fff" stroke="#1a1a1a" stroke-width="0.9" />
<path d="M243.4,379.2 L242.6,374.9 L248.9,378.1 L249.7,382.3 Z" fill="#fff" stroke="#333" stroke-width="0.7" />
<path d="M242.6,374.9 L243.9,372.8 L250.2,376.0 L248.9,378.1 Z" fill="#fff" stroke="#1a1a1a" stroke-width="0.9" />
<path d="M247.3,373.0 L247.0,368.1 L253.3,371.2 L253.6,376.1 Z" fill="#fff" stroke="#333" stroke-width="0.7" />
<path d="M247.0,368.1 L248.4,366.1 L254.6,369.2 L253.3,371.2 Z" fill="#fff" stroke="#1a1a1a" stroke-width="0.9" />
<path d="M251.4,367.2 L251.6,361.7 L257.8,364.8 L257.6,370.3 Z" fill="#fff" stroke="#333" stroke-width="0.7" />
<path d="M251.6,361.7 L252.9,359.9 L259.2,363.0 L257.8,364.8 Z" fill="#fff" stroke="#1a1a1a" stroke-width="0.9" />
<path d="M255.5,361.8 L256.2,355.8 L262.4,358.9 L261.7,364.9 Z" fill="#fff" stroke="#333" stroke-width="0.7" />
<path d="M256.2,355.8 L257.5,354.2 L263.8,357.3 L262.4,358.9 Z" fill="#fff" stroke="#1a1a1a" stroke-width="0.9" />
<path d="M259.6,357.0 L260.8,350.5 L267.0,353.6 L265.8,360.1 Z" fill="#fff" stroke="#333" stroke-width="0.7" />
<path d="M260.8,350.5 L262.1,349.1 L268.4,352.2 L267.0,353.6 Z" fill="#fff" stroke="#1a1a1a" stroke-width="0.9" />
<path d="M263.7,352.7 L265.3,345.9 L271.6,349.0 L269.9,355.8 Z" fill="#fff" stroke="#333" stroke-width="0.7" />
<path d="M265.3,345.9 L266.7,344.6 L273.0,347.8 L271.6,349.0 Z" fill="#fff" stroke="#1a1a1a" stroke-width="0.9" />
<path d="M267.7,349.1 L269.8,342.0 L276.1,345.1 L274.0,352.2 Z" fill="#fff" stroke="#333" stroke-width="0.7" />
<path d="M269.8,342.0 L271.1,340.9 L277.4,344.1 L276.1,345.1 Z" fill="#fff" stroke="#1a1a1a" stroke-width="0.9" />
<path d="M271.6,346.1 L274.1,338.8 L280.4,341.9 L277.9,349.2 Z" fill="#fff" stroke="#333" stroke-width="0.7" />
<path d="M274.1,338.8 L275.4,338.0 L281.6,341.2 L280.4,341.9 Z" fill="#fff" stroke="#1a1a1a" stroke-width="0.9" />
<path d="M275.3,343.9 L278.2,336.5 L284.5,339.6 L281.6,347.0 Z" fill="#fff" stroke="#333" stroke-width="0.7" />
<path d="M278.2,336.5 L279.4,335.9 L285.7,339.1 L284.5,339.6 Z" fill="#fff" stroke="#1a1a1a" stroke-width="0.9" />
<path d="M278.8,342.4 L282.1,335.0 L288.3,338.1 L285.0,345.5 Z" fill="#fff" stroke="#333" stroke-width="0.7" />
<path d="M282.1,335.0 L283.2,334.7 L289.4,337.8 L288.3,338.1 Z" fill="#fff" stroke="#1a1a1a" stroke-width="0.9" />
<path d="M282.0,341.6 L285.6,334.3 L291.9,337.4 L288.3,344.8 Z" fill="#fff" stroke="#333" stroke-width="0.7" />
<path d="M285.6,334.3 L286.6,334.3 L292.9,337.4 L291.9,337.4 Z" fill="#fff" stroke="#1a1a1a" stroke-width="0.9" />
<path d="M284.9,341.7 L288.8,334.5 L295.0,337.6 L291.2,344.8 Z" fill="#fff" stroke="#333" stroke-width="0.7" />
<path d="M288.8,334.5 L289.6,334.8 L295.9,337.9 L295.0,337.6 Z" fill="#fff" stroke="#1a1a1a" stroke-width="0.9" />
<path d="M293.7,345.6 L297.8,338.7 L298.6,339.2 L295.3,346.6 L295.9,347.2 L300.2,340.6 L300.8,341.4 L297.2,348.7 L297.7,349.5 L302.0,343.4 L302.5,344.3 L298.7,351.5 L299.0,352.5 L303.4,346.9 L303.8,348.1 L299.7,355.0 L299.9,356.1 L304.4,351.1 L304.5,352.6 L300.3,359.1 L300.4,360.5 L304.7,356.1 L304.8,357.7 L300.4,363.8 L300.3,365.3 L304.6,361.7 L304.5,363.5 L300.0,369.1 L299.8,370.7 L304.0,367.8 L303.7,369.8 L299.2,374.8 L298.9,376.6 L302.8,374.4 L302.4,376.5 L298.0,380.9 L297.5,382.8 L301.2,381.5 L300.6,383.6 L296.3,387.3 L295.7,389.3 L299.1,388.8 L298.3,391.0 L294.2,394.0 L293.5,396.0 L296.5,396.3 L295.7,398.6 L291.7,400.8 L290.9,402.8 L293.5,404.0 L292.6,406.3 L288.9,407.6 L288.0,409.7 L290.2,411.7 L289.1,414.0 L285.7,414.5 L284.7,416.5 L286.5,419.3 L285.3,421.6 L282.3,421.2 L281.2,423.2 L282.5,426.8 L281.3,428.9 L278.6,427.8 L277.5,429.7 L278.3,433.9 L277.0,436.0 L274.8,434.1 L273.6,435.9 L273.9,440.8 L272.6,442.8 L270.8,440.0 L269.6,441.7 L269.4,447.2 L268.0,449.0 L266.7,445.5 L265.5,447.1 L264.8,453.1 L263.4,454.7 L262.6,450.5 L261.4,451.9 L260.2,458.4 L258.8,459.8 L258.5,455.0 L257.3,456.2 L255.6,463.0 L254.2,464.2 L254.4,458.8 L253.2,459.8 L251.1,466.9 L249.8,467.9 L250.5,461.9 L249.3,462.8 L246.8,470.1 L245.6,470.8 L246.7,464.4 L245.6,465.0 L242.7,472.4 L241.5,472.9 L243.2,466.1 L242.2,466.5 L238.9,473.9 L237.8,474.2 L239.9,467.1 L238.9,467.2 L235.3,474.6 L234.3,474.6 L236.9,467.3 L236.0,467.2 L232.2,474.4 L231.3,474.1 L234.2,466.7 L233.5,466.4 L229.4,473.3 L228.6,472.8 L231.9,465.4 L231.3,464.8 L227.0,471.4 L226.4,470.6 L230.0,463.3 L229.5,462.5 L225.2,468.6 L224.7,467.7 L228.5,460.5 L228.2,459.5 L223.8,465.1 L223.4,463.9 L227.5,457.0 L227.3,455.9 L222.8,460.9 L222.7,459.4 L226.9,452.9 L226.8,451.5 L222.5,455.9 L222.4,454.3 L226.8,448.2 L226.9,446.7 L222.6,450.3 L222.7,448.5 L227.2,442.9 L227.4,441.3 L223.2,444.2 L223.5,442.2 L228.0,437.2 L228.3,435.4 L224.4,437.6 L224.8,435.5 L229.2,431.1 L229.7,429.2 L226.0,430.5 L226.6,428.4 L230.9,424.7 L231.5,422.7 L228.1,423.2 L228.9,421.0 L233.0,418.0 L233.7,416.0 L230.7,415.7 L231.5,413.4 L235.5,411.2 L236.3,409.2 L233.7,408.0 L234.6,405.7 L238.3,404.4 L239.2,402.3 L237.0,400.3 L238.1,398.0 L241.5,397.5 L242.5,395.5 L240.7,392.7 L241.9,390.4 L244.9,390.8 L246.0,388.8 L244.7,385.2 L245.9,383.1 L248.6,384.2 L249.7,382.3 L248.9,378.1 L250.2,376.0 L252.4,377.9 L253.6,376.1 L253.3,371.2 L254.6,369.2 L256.4,372.0 L257.6,370.3 L257.8,364.8 L259.2,363.0 L260.5,366.5 L261.7,364.9 L262.4,358.9 L263.8,357.3 L264.6,361.5 L265.8,360.1 L267.0,353.6 L268.4,352.2 L268.7,357.0 L269.9,355.8 L271.6,349.0 L273.0,347.8 L272.8,353.2 L274.0,352.2 L276.1,345.1 L277.4,344.1 L276.7,350.1 L277.9,349.2 L280.4,341.9 L281.6,341.2 L280.5,347.6 L281.6,347.0 L284.5,339.6 L285.7,339.1 L284.0,345.9 L285.0,345.5 L288.3,338.1 L289.4,337.8 L287.3,344.9 L288.3,344.8 L291.9,337.4 L292.9,337.4 L290.3,344.7 L291.2,344.8 L295.0,337.6 L295.9,337.9 L293.0,345.3 Z" fill="#fff" stroke="#1a1a1a" stroke-width="1.2000000000000002" />
<path d="M293.2,346.7 L295.2,348.1 L296.9,350.1 L298.2,352.8 L299.1,356.0 L299.6,359.8 L299.7,364.1 L299.5,368.8 L298.8,374.0 L297.8,379.5 L296.4,385.3 L294.6,391.3 L292.5,397.5 L290.1,403.8 L287.3,410.1 L284.4,416.4 L281.2,422.5 L277.8,428.5 L274.2,434.2 L270.5,439.6 L266.8,444.6 L263.0,449.3 L259.2,453.4 L255.5,457.0 L251.9,460.1 L248.4,462.6 L245.0,464.4 L241.9,465.6 L239.0,466.2 L236.3,466.1 L234.0,465.3 L232.0,463.9 L230.3,461.9 L229.0,459.2 L228.1,456.0 L227.6,452.2 L227.5,447.9 L227.7,443.2 L228.4,438.0 L229.4,432.5 L230.8,426.7 L232.6,420.7 L234.7,414.5 L237.1,408.2 L239.9,401.9 L242.8,395.6 L246.0,389.5 L249.4,383.5 L253.0,377.8 L256.7,372.4 L260.4,367.4 L264.2,362.7 L268.0,358.6 L271.7,355.0 L275.3,351.9 L278.8,349.4 L282.2,347.6 L285.3,346.4 L288.2,345.8 L290.9,345.9 Z" fill="none" stroke="#1a1a1a" stroke-width="0.9" />
<path d="M290.4,352.3 L292.2,353.6 L293.7,355.4 L294.9,357.8 L295.7,360.8 L296.2,364.2 L296.3,368.1 L296.1,372.4 L295.5,377.0 L294.5,382.0 L293.3,387.3 L291.7,392.7 L289.7,398.3 L287.5,404.0 L285.1,409.7 L282.4,415.4 L279.5,420.9 L276.4,426.3 L273.2,431.5 L269.9,436.4 L266.5,441.0 L263.1,445.1 L259.7,448.9 L256.3,452.2 L253.0,454.9 L249.8,457.2 L246.8,458.9 L243.9,460.0 L241.3,460.5 L238.9,460.4 L236.8,459.7 L235.0,458.4 L233.5,456.6 L232.3,454.2 L231.5,451.2 L231.0,447.8 L230.9,443.9 L231.1,439.6 L231.7,435.0 L232.7,430.0 L233.9,424.7 L235.5,419.3 L237.5,413.7 L239.7,408.0 L242.1,402.3 L244.8,396.6 L247.7,391.1 L250.8,385.7 L254.0,380.5 L257.3,375.6 L260.7,371.0 L264.1,366.9 L267.5,363.1 L270.9,359.8 L274.2,357.1 L277.4,354.8 L280.4,353.1 L283.3,352.0 L285.9,351.5 L288.3,351.6 Z" fill="none" stroke="#1a1a1a" stroke-width="1.0" />
<path d="M289.3,354.5 L291.0,355.8 L292.4,357.5 L293.6,359.8 L294.4,362.6 L294.8,365.9 L294.9,369.6 L294.7,373.8 L294.2,378.2 L293.3,383.0 L292.0,388.0 L290.5,393.3 L288.7,398.6 L286.6,404.1 L284.2,409.6 L281.6,415.0 L278.8,420.3 L275.9,425.5 L272.8,430.4 L269.6,435.1 L266.4,439.5 L263.1,443.5 L259.8,447.1 L256.6,450.2 L253.4,452.9 L250.4,455.1 L247.5,456.7 L244.8,457.7 L242.2,458.2 L240.0,458.1 L237.9,457.5 L236.2,456.2 L234.8,454.5 L233.6,452.2 L232.8,449.4 L232.4,446.1 L232.3,442.4 L232.5,438.2 L233.0,433.8 L233.9,429.0 L235.2,424.0 L236.7,418.7 L238.5,413.4 L240.6,407.9 L243.0,402.4 L245.6,397.0 L248.4,391.7 L251.3,386.5 L254.4,381.6 L257.6,376.9 L260.8,372.5 L264.1,368.5 L267.4,364.9 L270.6,361.8 L273.8,359.1 L276.8,356.9 L279.7,355.3 L282.4,354.3 L285.0,353.8 L287.2,353.9 Z" fill="none" stroke="#555" stroke-width="0.8" />
<path d="M277.9,377.4 L276.8,377.0 L275.5,376.9 L274.1,377.2 L272.6,377.8 L271.0,378.7 L269.3,379.9 L267.5,381.4 L265.7,383.1 L263.9,385.1 L262.1,387.4 L260.3,389.8 L258.5,392.4 L256.8,395.2 L255.1,398.0 L253.6,401.0 L252.1,404.0 L250.8,407.1 L249.7,410.1 L248.6,413.1 L247.8,416.0 L247.1,418.8 L246.6,421.4 L246.3,423.9 L246.2,426.2 L246.2,428.3 L246.5,430.1 L246.9,431.7 L247.5,433.0 L248.4,434.0 L249.3,434.6 L265.9,442.9 L267.0,443.3 L268.3,443.3 L269.7,443.0 L271.2,442.4 L272.8,441.6 L274.5,440.4 L276.3,438.9 L278.1,437.1 L279.9,435.1 L281.7,432.9 L283.5,430.5 L285.3,427.9 L287.0,425.1 L288.6,422.2 L290.2,419.3 L291.6,416.2 L292.9,413.2 L294.1,410.2 L295.1,407.2 L296.0,404.3 L296.7,401.5 L297.2,398.8 L297.5,396.3 L297.6,394.0 L297.5,392.0 L297.3,390.1 L296.8,388.6 L296.2,387.3 L295.4,386.3 L294.4,385.6 Z" fill="#fff" stroke="#1a1a1a" stroke-width="1.1" />
<path d="M294.4,385.6 L295.4,386.3 L296.2,387.3 L296.8,388.6 L297.3,390.1 L297.5,392.0 L297.6,394.0 L297.5,396.3 L297.2,398.8 L296.7,401.5 L296.0,404.3 L295.1,407.2 L294.1,410.2 L292.9,413.2 L291.6,416.2 L290.2,419.3 L288.6,422.2 L287.0,425.1 L285.3,427.9 L283.5,430.5 L281.7,432.9 L279.9,435.1 L278.1,437.1 L276.3,438.9 L274.5,440.4 L272.8,441.6 L271.2,442.4 L269.7,443.0 L268.3,443.3 L267.0,443.3 L265.9,442.9 L264.9,442.2 L264.1,441.2 L263.5,439.9 L263.0,438.4 L262.8,436.6 L262.7,434.5 L262.8,432.2 L263.2,429.7 L263.7,427.0 L264.3,424.2 L265.2,421.3 L266.2,418.4 L267.4,415.3 L268.7,412.3 L270.1,409.3 L271.7,406.3 L273.3,403.4 L275.0,400.7 L276.8,398.0 L278.6,395.6 L280.4,393.4 L282.3,391.4 L284.1,389.6 L285.8,388.1 L287.5,387.0 L289.1,386.1 L290.6,385.5 L292.0,385.2 L293.3,385.3 Z" fill="#fff" stroke="#1a1a1a" stroke-width="1.1" />
<clipPath id="bore"><path d="M288.2,398.1 L288.9,398.7 L289.4,399.4 L289.7,400.4 L289.9,401.7 L290.0,403.2 L289.8,404.9 L289.5,406.7 L289.1,408.6 L288.4,410.7 L287.7,412.8 L286.8,414.9 L285.8,417.1 L284.7,419.1 L283.5,421.1 L282.3,423.0 L281.0,424.7 L279.7,426.3 L278.5,427.6 L277.2,428.7 L276.0,429.6 L274.9,430.2 L273.9,430.5 L272.9,430.6 L272.1,430.4 L271.5,429.9 L270.9,429.1 L270.6,428.1 L270.4,426.8 L270.4,425.3 L270.5,423.7 L270.8,421.8 L271.3,419.9 L271.9,417.8 L272.6,415.7 L273.5,413.6 L274.5,411.4 L275.6,409.4 L276.8,407.4 L278.0,405.5 L279.3,403.8 L280.6,402.2 L281.8,400.9 L283.1,399.8 L284.3,398.9 L285.4,398.3 L286.5,398.0 L287.4,397.9 Z"/></clipPath>
<g clip-path="url(#bore)">
<path d="M271,417.5 Q280,419.5 290,413" fill="none" stroke="#444" stroke-width="1"/>
<path d="M270,421 Q279,423.5 289,417" fill="none" stroke="#555" stroke-width="1"/>
<path d="M271,425 Q278,427 287,422" fill="none" stroke="#666" stroke-width="0.9"/>
<path d="M283.7,395.9 L284.3,396.3 L284.7,396.9 L285.1,397.6 L285.3,398.5 L285.5,399.5 L285.5,400.6 L285.4,401.9 L285.2,403.3 L285.0,404.8 L284.6,406.4 L284.1,408.0 L283.5,409.7 L282.9,411.4 L282.1,413.1 L281.3,414.8 L280.4,416.5 L279.5,418.1 L278.6,419.7 L277.6,421.1 L276.5,422.5 L275.5,423.8 L274.5,424.9 L273.5,425.9 L272.5,426.7 L271.5,427.4 L270.6,427.9 L269.8,428.2 L269.0,428.4 L268.3,428.3 L267.7,428.1 L267.1,427.8 L266.7,427.2 L266.3,426.5 L266.1,425.6 L265.9,424.6 L265.9,423.4 L265.9,422.1 L266.1,420.7 L266.4,419.2 L266.8,417.6 L267.3,416.0 L267.8,414.3 L268.5,412.6 L269.2,410.9 L270.0,409.2 L270.9,407.5 L271.8,405.9 L272.8,404.4 L273.8,402.9 L274.8,401.5 L275.8,400.3 L276.9,399.2 L277.9,398.2 L278.9,397.3 L279.8,396.7 L280.7,396.2 L281.6,395.8 L282.4,395.7 L283.1,395.7 Z" fill="none" stroke="#777" stroke-width="0.9" />
</g>
<path d="M288.2,398.1 L288.7,398.5 L289.2,399.1 L289.5,399.8 L289.8,400.7 L289.9,401.7 L290.0,402.9 L289.9,404.2 L289.7,405.6 L289.4,407.1 L289.1,408.6 L288.6,410.3 L288.0,412.0 L287.3,413.7 L286.6,415.4 L285.8,417.1 L284.9,418.7 L284.0,420.4 L283.0,421.9 L282.0,423.4 L281.0,424.7 L280.0,426.0 L279.0,427.1 L278.0,428.1 L277.0,428.9 L276.0,429.6 L275.1,430.1 L274.3,430.4 L273.5,430.6 L272.8,430.6 L272.1,430.4 L271.6,430.0 L271.1,429.4 L270.8,428.7 L270.5,427.8 L270.4,426.8 L270.3,425.6 L270.4,424.3 L270.6,422.9 L270.9,421.4 L271.3,419.9 L271.7,418.2 L272.3,416.6 L273.0,414.9 L273.7,413.1 L274.5,411.4 L275.4,409.8 L276.3,408.2 L277.3,406.6 L278.3,405.1 L279.3,403.8 L280.3,402.5 L281.3,401.4 L282.4,400.4 L283.3,399.6 L284.3,398.9 L285.2,398.4 L286.1,398.1 L286.8,397.9 L287.6,397.9 Z" fill="none" stroke="#1a1a1a" stroke-width="1.2" />
<path d="M455.5,253.4 L455.1,253.3 L454.7,253.3 L454.2,253.4 L453.8,253.6 L453.3,253.8 L452.8,254.1 L452.3,254.5 L451.9,255.0 L451.4,255.6 L451.0,256.2 L450.5,256.9 L450.1,257.6 L449.7,258.3 L449.4,259.1 L449.1,259.9 L448.8,260.7 L448.6,261.6 L448.4,262.4 L448.2,263.2 L448.1,264.0 L448.1,264.8 L448.1,265.5 L448.2,266.1 L448.3,266.8 L448.4,267.3 L448.6,267.8 L448.9,268.2 L449.2,268.6 L449.5,268.8 L449.8,269.0 L517.6,293.4 L518.0,293.5 L518.4,293.5 L518.8,293.4 L519.3,293.3 L519.8,293.0 L520.2,292.7 L520.7,292.3 L521.2,291.8 L521.7,291.2 L522.1,290.6 L522.5,290.0 L522.9,289.2 L523.3,288.5 L523.7,287.7 L524.0,286.9 L524.3,286.1 L524.5,285.2 L524.7,284.4 L524.8,283.6 L524.9,282.8 L525.0,282.1 L525.0,281.3 L524.9,280.7 L524.8,280.0 L524.6,279.5 L524.4,279.0 L524.2,278.6 L523.9,278.2 L523.6,278.0 L523.2,277.8 Z" fill="#fff" stroke="#1a1a1a" stroke-width="1.2" />
<path d="M523.2,277.8 L523.6,278.0 L523.9,278.2 L524.2,278.6 L524.4,279.0 L524.6,279.5 L524.8,280.0 L524.9,280.7 L525.0,281.3 L525.0,282.1 L524.9,282.8 L524.8,283.6 L524.7,284.4 L524.5,285.2 L524.3,286.1 L524.0,286.9 L523.7,287.7 L523.3,288.5 L522.9,289.2 L522.5,290.0 L522.1,290.6 L521.7,291.2 L521.2,291.8 L520.7,292.3 L520.2,292.7 L519.8,293.0 L519.3,293.3 L518.8,293.4 L518.4,293.5 L518.0,293.5 L517.6,293.4 L517.2,293.2 L516.9,293.0 L516.6,292.6 L516.4,292.2 L516.2,291.7 L516.0,291.2 L515.9,290.5 L515.8,289.9 L515.8,289.1 L515.9,288.4 L516.0,287.6 L516.1,286.8 L516.3,286.0 L516.5,285.1 L516.8,284.3 L517.1,283.5 L517.5,282.7 L517.9,282.0 L518.3,281.2 L518.7,280.6 L519.1,280.0 L519.6,279.4 L520.1,278.9 L520.6,278.5 L521.0,278.2 L521.5,277.9 L522.0,277.8 L522.4,277.7 L522.8,277.7 Z" fill="#fff" stroke="#1a1a1a" stroke-width="1.2" />
<path d="M380.0,319.3 L379.6,319.2 L379.2,319.2 L378.7,319.2 L378.2,319.4 L377.7,319.6 L377.2,319.9 L376.7,320.3 L376.2,320.8 L375.7,321.3 L375.2,321.9 L374.7,322.5 L374.3,323.3 L373.8,324.0 L373.4,324.8 L373.1,325.6 L372.7,326.4 L372.5,327.3 L372.2,328.1 L372.0,328.9 L371.9,329.7 L371.8,330.5 L371.8,331.2 L371.8,331.9 L371.9,332.6 L372.0,333.1 L372.2,333.7 L372.4,334.1 L372.7,334.5 L373.0,334.7 L373.3,334.9 L435.5,361.3 L435.9,361.4 L436.3,361.5 L436.8,361.4 L437.2,361.3 L437.7,361.0 L438.2,360.7 L438.7,360.3 L439.3,359.9 L439.8,359.3 L440.3,358.7 L440.7,358.1 L441.2,357.4 L441.6,356.6 L442.0,355.8 L442.4,355.0 L442.7,354.2 L443.0,353.4 L443.2,352.5 L443.4,351.7 L443.6,350.9 L443.7,350.1 L443.7,349.4 L443.7,348.7 L443.6,348.1 L443.5,347.5 L443.3,347.0 L443.1,346.5 L442.8,346.2 L442.5,345.9 L442.1,345.7 Z" fill="#fff" stroke="#1a1a1a" stroke-width="1.2" />
<path d="M442.1,345.7 L442.5,345.9 L442.8,346.2 L443.1,346.5 L443.3,347.0 L443.5,347.5 L443.6,348.1 L443.7,348.7 L443.7,349.4 L443.7,350.1 L443.6,350.9 L443.4,351.7 L443.2,352.5 L443.0,353.4 L442.7,354.2 L442.4,355.0 L442.0,355.8 L441.6,356.6 L441.2,357.4 L440.7,358.1 L440.3,358.7 L439.8,359.3 L439.3,359.9 L438.7,360.3 L438.2,360.7 L437.7,361.0 L437.2,361.3 L436.8,361.4 L436.3,361.5 L435.9,361.4 L435.5,361.3 L435.1,361.1 L434.8,360.8 L434.5,360.5 L434.3,360.0 L434.1,359.5 L434.0,358.9 L433.9,358.3 L433.9,357.6 L433.9,356.9 L434.0,356.1 L434.2,355.3 L434.4,354.5 L434.6,353.6 L434.9,352.8 L435.2,352.0 L435.6,351.2 L436.0,350.4 L436.4,349.6 L436.9,348.9 L437.3,348.3 L437.8,347.7 L438.3,347.1 L438.9,346.7 L439.4,346.3 L439.9,346.0 L440.4,345.7 L440.8,345.6 L441.3,345.5 L441.7,345.6 Z" fill="#fff" stroke="#1a1a1a" stroke-width="1.2" />
<path d="M351.8,207.4 L352.4,207.6 L353.0,208.0 L353.6,208.5 L354.1,209.2 L354.5,209.9 L354.8,210.8 L355.1,211.7 L355.3,212.7 L355.5,213.8 L355.5,214.9 L355.5,216.1 L355.4,217.3 L355.2,218.5 L354.9,219.8 L354.6,221.0 L354.1,222.2 L353.7,223.4 L353.1,224.5 L352.5,225.6 L351.9,226.6 L351.2,227.5 L350.5,228.3 L349.7,229.0 L349.0,229.6 L348.2,230.1 L347.4,230.5 L346.7,230.7 L345.9,230.8 L345.2,230.8 L344.5,230.7 L343.9,230.4 L343.3,230.0 L342.7,229.5 L342.2,228.8 L341.8,228.1 L341.4,227.3 L341.2,226.3 L341.0,225.3 L340.8,224.2 L340.8,223.1 L340.8,221.9 L340.9,220.7 L341.1,219.5 L341.4,218.2 L341.7,217.0 L342.2,215.8 L342.6,214.6 L343.2,213.5 L343.8,212.4 L344.4,211.5 L345.1,210.5 L345.8,209.7 L346.6,209.0 L347.3,208.4 L348.1,207.9 L348.9,207.5 L349.6,207.3 L350.4,207.2 L351.1,207.2 Z" fill="#fff" stroke="#1a1a1a" stroke-width="1.0" />
<path d="M352.7,207.7 L353.4,207.9 L354.0,208.3 L354.5,208.8 L355.0,209.5 L355.4,210.2 L355.8,211.0 L356.1,212.0 L356.3,213.0 L356.4,214.1 L356.5,215.2 L356.4,216.4 L356.3,217.6 L356.1,218.8 L355.9,220.1 L355.5,221.3 L355.1,222.5 L354.6,223.7 L354.1,224.8 L353.5,225.9 L352.8,226.9 L352.2,227.8 L351.4,228.6 L350.7,229.3 L349.9,229.9 L349.2,230.4 L348.4,230.8 L347.6,231.0 L346.9,231.1 L346.2,231.1 L345.5,230.9 L344.8,230.7 L344.2,230.3 L343.7,229.8 L343.2,229.1 L342.8,228.4 L342.4,227.6 L342.1,226.6 L341.9,225.6 L341.8,224.5 L341.7,223.4 L341.8,222.2 L341.9,221.0 L342.1,219.8 L342.3,218.5 L342.7,217.3 L343.1,216.1 L343.6,214.9 L344.1,213.8 L344.7,212.7 L345.4,211.7 L346.0,210.8 L346.8,210.0 L347.5,209.3 L348.3,208.7 L349.0,208.2 L349.8,207.8 L350.6,207.6 L351.3,207.5 L352.0,207.5 Z" fill="#fff" stroke="#1a1a1a" stroke-width="1.3" />
<path d="M351.0,213.1 L351.4,213.2 L351.7,213.5 L352.0,213.7 L352.3,214.1 L352.5,214.5 L352.7,214.9 L352.8,215.4 L352.9,215.9 L353.0,216.5 L353.0,217.1 L353.0,217.7 L352.9,218.4 L352.8,219.0 L352.7,219.7 L352.5,220.4 L352.3,221.0 L352.0,221.6 L351.7,222.2 L351.4,222.8 L351.1,223.3 L350.7,223.8 L350.3,224.2 L349.9,224.6 L349.5,224.9 L349.1,225.2 L348.7,225.4 L348.3,225.5 L347.9,225.6 L347.5,225.6 L347.2,225.5 L346.8,225.4 L346.5,225.1 L346.2,224.9 L345.9,224.5 L345.7,224.1 L345.5,223.7 L345.4,223.2 L345.3,222.7 L345.2,222.1 L345.2,221.5 L345.2,220.9 L345.3,220.2 L345.4,219.6 L345.5,218.9 L345.7,218.2 L345.9,217.6 L346.2,217.0 L346.5,216.4 L346.8,215.8 L347.1,215.3 L347.5,214.8 L347.9,214.4 L348.3,214.0 L348.7,213.7 L349.1,213.4 L349.5,213.2 L349.9,213.1 L350.3,213.0 L350.7,213.0 Z" fill="#fff" stroke="#1a1a1a" stroke-width="1.3" />
<path d="M265.4,266.4 L266.0,266.6 L266.6,267.0 L267.2,267.5 L267.7,268.2 L268.1,268.9 L268.4,269.8 L268.7,270.7 L268.9,271.7 L269.1,272.8 L269.1,273.9 L269.1,275.1 L269.0,276.3 L268.8,277.5 L268.5,278.8 L268.2,280.0 L267.7,281.2 L267.3,282.4 L266.7,283.5 L266.1,284.6 L265.5,285.6 L264.8,286.5 L264.1,287.3 L263.3,288.0 L262.6,288.6 L261.8,289.1 L261.0,289.5 L260.3,289.7 L259.5,289.8 L258.8,289.8 L258.1,289.7 L257.5,289.4 L256.9,289.0 L256.3,288.5 L255.8,287.8 L255.4,287.1 L255.0,286.3 L254.8,285.3 L254.6,284.3 L254.4,283.2 L254.4,282.1 L254.4,280.9 L254.5,279.7 L254.7,278.5 L255.0,277.2 L255.3,276.0 L255.8,274.8 L256.2,273.6 L256.8,272.5 L257.4,271.4 L258.0,270.5 L258.7,269.5 L259.4,268.7 L260.2,268.0 L260.9,267.4 L261.7,266.9 L262.5,266.5 L263.2,266.3 L264.0,266.2 L264.7,266.2 Z" fill="#fff" stroke="#1a1a1a" stroke-width="1.0" />
<path d="M266.3,266.7 L267.0,266.9 L267.6,267.3 L268.1,267.8 L268.6,268.5 L269.0,269.2 L269.4,270.0 L269.7,271.0 L269.9,272.0 L270.0,273.1 L270.1,274.2 L270.0,275.4 L269.9,276.6 L269.7,277.8 L269.5,279.1 L269.1,280.3 L268.7,281.5 L268.2,282.7 L267.7,283.8 L267.1,284.9 L266.4,285.9 L265.8,286.8 L265.0,287.6 L264.3,288.3 L263.5,288.9 L262.8,289.4 L262.0,289.8 L261.2,290.0 L260.5,290.1 L259.8,290.1 L259.1,289.9 L258.4,289.7 L257.8,289.3 L257.3,288.8 L256.8,288.1 L256.4,287.4 L256.0,286.6 L255.7,285.6 L255.5,284.6 L255.4,283.5 L255.3,282.4 L255.4,281.2 L255.5,280.0 L255.7,278.8 L255.9,277.5 L256.3,276.3 L256.7,275.1 L257.2,273.9 L257.7,272.8 L258.3,271.7 L259.0,270.7 L259.6,269.8 L260.4,269.0 L261.1,268.3 L261.9,267.7 L262.6,267.2 L263.4,266.8 L264.2,266.6 L264.9,266.5 L265.6,266.5 Z" fill="#fff" stroke="#1a1a1a" stroke-width="1.3" />
<path d="M264.6,272.1 L265.0,272.2 L265.3,272.5 L265.6,272.7 L265.9,273.1 L266.1,273.5 L266.3,273.9 L266.4,274.4 L266.5,274.9 L266.6,275.5 L266.6,276.1 L266.6,276.7 L266.5,277.4 L266.4,278.0 L266.3,278.7 L266.1,279.4 L265.9,280.0 L265.6,280.6 L265.3,281.2 L265.0,281.8 L264.7,282.3 L264.3,282.8 L263.9,283.2 L263.5,283.6 L263.1,283.9 L262.7,284.2 L262.3,284.4 L261.9,284.5 L261.5,284.6 L261.1,284.6 L260.8,284.5 L260.4,284.4 L260.1,284.1 L259.8,283.9 L259.5,283.5 L259.3,283.1 L259.1,282.7 L259.0,282.2 L258.9,281.7 L258.8,281.1 L258.8,280.5 L258.8,279.9 L258.9,279.2 L259.0,278.6 L259.1,277.9 L259.3,277.2 L259.5,276.6 L259.8,276.0 L260.1,275.4 L260.4,274.8 L260.7,274.3 L261.1,273.8 L261.5,273.4 L261.9,273.0 L262.3,272.7 L262.7,272.4 L263.1,272.2 L263.5,272.1 L263.9,272.0 L264.3,272.0 Z" fill="#fff" stroke="#1a1a1a" stroke-width="1.3" />
<path d="M558.1,286.0 L558.7,286.2 L559.3,286.6 L559.9,287.1 L560.4,287.8 L560.8,288.5 L561.1,289.4 L561.4,290.3 L561.6,291.3 L561.8,292.4 L561.8,293.5 L561.8,294.7 L561.7,295.9 L561.5,297.1 L561.2,298.4 L560.9,299.6 L560.4,300.8 L560.0,302.0 L559.4,303.1 L558.8,304.2 L558.2,305.2 L557.5,306.1 L556.8,306.9 L556.0,307.6 L555.3,308.2 L554.5,308.7 L553.7,309.1 L553.0,309.3 L552.2,309.4 L551.5,309.4 L550.8,309.3 L550.2,309.0 L549.6,308.6 L549.0,308.1 L548.5,307.4 L548.1,306.7 L547.7,305.9 L547.5,304.9 L547.3,303.9 L547.1,302.8 L547.1,301.7 L547.1,300.5 L547.2,299.3 L547.4,298.1 L547.7,296.8 L548.0,295.6 L548.5,294.4 L548.9,293.2 L549.5,292.1 L550.1,291.0 L550.7,290.1 L551.4,289.1 L552.1,288.3 L552.9,287.6 L553.6,287.0 L554.4,286.5 L555.2,286.1 L555.9,285.9 L556.7,285.8 L557.4,285.8 Z" fill="#fff" stroke="#1a1a1a" stroke-width="1.0" />
<path d="M559.0,286.3 L559.7,286.5 L560.3,286.9 L560.8,287.4 L561.3,288.1 L561.7,288.8 L562.1,289.6 L562.4,290.6 L562.6,291.6 L562.7,292.7 L562.8,293.8 L562.7,295.0 L562.6,296.2 L562.4,297.4 L562.2,298.7 L561.8,299.9 L561.4,301.1 L560.9,302.3 L560.4,303.4 L559.8,304.5 L559.1,305.5 L558.5,306.4 L557.7,307.2 L557.0,307.9 L556.2,308.5 L555.5,309.0 L554.7,309.4 L553.9,309.6 L553.2,309.7 L552.5,309.7 L551.8,309.5 L551.1,309.3 L550.5,308.9 L550.0,308.4 L549.5,307.7 L549.1,307.0 L548.7,306.2 L548.4,305.2 L548.2,304.2 L548.1,303.1 L548.0,302.0 L548.1,300.8 L548.2,299.6 L548.4,298.4 L548.6,297.1 L549.0,295.9 L549.4,294.7 L549.9,293.5 L550.4,292.4 L551.0,291.3 L551.7,290.3 L552.3,289.4 L553.1,288.6 L553.8,287.9 L554.6,287.3 L555.3,286.8 L556.1,286.4 L556.9,286.2 L557.6,286.1 L558.3,286.1 Z" fill="#fff" stroke="#1a1a1a" stroke-width="1.3" />
<path d="M557.3,291.7 L557.7,291.8 L558.0,292.1 L558.3,292.3 L558.6,292.7 L558.8,293.1 L559.0,293.5 L559.1,294.0 L559.2,294.5 L559.3,295.1 L559.3,295.7 L559.3,296.3 L559.2,297.0 L559.1,297.6 L559.0,298.3 L558.8,299.0 L558.6,299.6 L558.3,300.2 L558.0,300.8 L557.7,301.4 L557.4,301.9 L557.0,302.4 L556.6,302.8 L556.2,303.2 L555.8,303.5 L555.4,303.8 L555.0,304.0 L554.6,304.1 L554.2,304.2 L553.8,304.2 L553.5,304.1 L553.1,304.0 L552.8,303.7 L552.5,303.5 L552.2,303.1 L552.0,302.7 L551.8,302.3 L551.7,301.8 L551.6,301.3 L551.5,300.7 L551.5,300.1 L551.5,299.5 L551.6,298.8 L551.7,298.2 L551.8,297.5 L552.0,296.8 L552.2,296.2 L552.5,295.6 L552.8,295.0 L553.1,294.4 L553.4,293.9 L553.8,293.4 L554.2,293.0 L554.6,292.6 L555.0,292.3 L555.4,292.0 L555.8,291.8 L556.2,291.7 L556.6,291.6 L557.0,291.6 Z" fill="#fff" stroke="#1a1a1a" stroke-width="1.3" />
<path d="M477.6,356.8 L478.2,357.0 L478.8,357.4 L479.4,357.9 L479.9,358.6 L480.3,359.3 L480.6,360.2 L480.9,361.1 L481.1,362.1 L481.3,363.2 L481.3,364.3 L481.3,365.5 L481.2,366.7 L481.0,367.9 L480.7,369.2 L480.4,370.4 L479.9,371.6 L479.5,372.8 L478.9,373.9 L478.3,375.0 L477.7,376.0 L477.0,376.9 L476.3,377.7 L475.5,378.4 L474.8,379.0 L474.0,379.5 L473.2,379.9 L472.5,380.1 L471.7,380.2 L471.0,380.2 L470.3,380.1 L469.7,379.8 L469.1,379.4 L468.5,378.9 L468.0,378.2 L467.6,377.5 L467.2,376.7 L467.0,375.7 L466.8,374.7 L466.6,373.6 L466.6,372.5 L466.6,371.3 L466.7,370.1 L466.9,368.9 L467.2,367.6 L467.5,366.4 L468.0,365.2 L468.4,364.0 L469.0,362.9 L469.6,361.8 L470.2,360.9 L470.9,359.9 L471.6,359.1 L472.4,358.4 L473.1,357.8 L473.9,357.3 L474.7,356.9 L475.4,356.7 L476.2,356.6 L476.9,356.6 Z" fill="#fff" stroke="#1a1a1a" stroke-width="1.0" />
<path d="M478.5,357.1 L479.2,357.3 L479.8,357.7 L480.3,358.2 L480.8,358.9 L481.2,359.6 L481.6,360.4 L481.9,361.4 L482.1,362.4 L482.2,363.5 L482.3,364.6 L482.2,365.8 L482.1,367.0 L481.9,368.2 L481.7,369.5 L481.3,370.7 L480.9,371.9 L480.4,373.1 L479.9,374.2 L479.3,375.3 L478.6,376.3 L478.0,377.2 L477.2,378.0 L476.5,378.7 L475.7,379.3 L475.0,379.8 L474.2,380.2 L473.4,380.4 L472.7,380.5 L472.0,380.5 L471.3,380.3 L470.6,380.1 L470.0,379.7 L469.5,379.2 L469.0,378.5 L468.6,377.8 L468.2,377.0 L467.9,376.0 L467.7,375.0 L467.6,373.9 L467.5,372.8 L467.6,371.6 L467.7,370.4 L467.9,369.2 L468.1,367.9 L468.5,366.7 L468.9,365.5 L469.4,364.3 L469.9,363.2 L470.5,362.1 L471.2,361.1 L471.8,360.2 L472.6,359.4 L473.3,358.7 L474.1,358.1 L474.8,357.6 L475.6,357.2 L476.4,357.0 L477.1,356.9 L477.8,356.9 Z" fill="#fff" stroke="#1a1a1a" stroke-width="1.3" />
<path d="M476.8,362.5 L477.2,362.6 L477.5,362.9 L477.8,363.1 L478.1,363.5 L478.3,363.9 L478.5,364.3 L478.6,364.8 L478.7,365.3 L478.8,365.9 L478.8,366.5 L478.8,367.1 L478.7,367.8 L478.6,368.4 L478.5,369.1 L478.3,369.8 L478.1,370.4 L477.8,371.0 L477.5,371.6 L477.2,372.2 L476.9,372.7 L476.5,373.2 L476.1,373.6 L475.7,374.0 L475.3,374.3 L474.9,374.6 L474.5,374.8 L474.1,374.9 L473.7,375.0 L473.3,375.0 L473.0,374.9 L472.6,374.8 L472.3,374.5 L472.0,374.3 L471.7,373.9 L471.5,373.5 L471.3,373.1 L471.2,372.6 L471.1,372.1 L471.0,371.5 L471.0,370.9 L471.0,370.3 L471.1,369.6 L471.2,369.0 L471.3,368.3 L471.5,367.6 L471.7,367.0 L472.0,366.4 L472.3,365.8 L472.6,365.2 L472.9,364.7 L473.3,364.2 L473.7,363.8 L474.1,363.4 L474.5,363.1 L474.9,362.8 L475.3,362.6 L475.7,362.5 L476.1,362.4 L476.5,362.4 Z" fill="#fff" stroke="#1a1a1a" stroke-width="1.3" />
<line x1="346.0" y1="40.9" x2="372.6" y2="40.9" stroke="#2a2a2a" stroke-width="1.1"/>
<line x1="310.9" y1="65.4" x2="342.6" y2="65.4" stroke="#2a2a2a" stroke-width="1.1"/>
<line x1="160.5" y1="89.9" x2="188.7" y2="89.9" stroke="#808080" stroke-width="1.4"/>
<line x1="423.4" y1="134.7" x2="454.1" y2="134.7" stroke="#808080" stroke-width="1.4"/>
<line x1="319.4" y1="218.5" x2="341.8" y2="218.5" stroke="#2a2a2a" stroke-width="1.1"/>
<line x1="422.8" y1="212.6" x2="453.1" y2="212.6" stroke="#808080" stroke-width="1.4"/>
<line x1="233.9" y1="276.2" x2="255.0" y2="276.2" stroke="#2a2a2a" stroke-width="1.1"/>
<line x1="330.9" y1="284.7" x2="365.6" y2="284.7" stroke="#808080" stroke-width="1.4"/>
<line x1="483.5" y1="262.3" x2="525.5" y2="261.7" stroke="#2a2a2a" stroke-width="1.1"/>
<line x1="563.5" y1="295.7" x2="592.9" y2="295.7" stroke="#2a2a2a" stroke-width="1.1"/>
<line x1="410.3" y1="331.6" x2="455.9" y2="330.9" stroke="#2a2a2a" stroke-width="1.1"/>
<line x1="483.5" y1="365.1" x2="510.2" y2="365.1" stroke="#2a2a2a" stroke-width="1.1"/>
<line x1="184.4" y1="445.0" x2="217.2" y2="445.0" stroke="#808080" stroke-width="1.4"/>
<g style="filter:grayscale(1)">
<text x="374.3" y="45.9" class="lb" textLength="8.7" lengthAdjust="spacingAndGlyphs">8</text>
<text x="344.6" y="70.5" class="lb" textLength="8.7" lengthAdjust="spacingAndGlyphs">8</text>
<text x="192.8" y="96.4" class="lb" textLength="8.7" lengthAdjust="spacingAndGlyphs">9</text>
<text x="455.9" y="140.7" class="lb" textLength="8.7" lengthAdjust="spacingAndGlyphs">7</text>
<text x="306.3" y="223.5" class="lb" textLength="8.7" lengthAdjust="spacingAndGlyphs">4</text>
<text x="455.0" y="218.3" class="lb" textLength="8.7" lengthAdjust="spacingAndGlyphs">6</text>
<text x="220.6" y="281.4" class="lb" textLength="8.7" lengthAdjust="spacingAndGlyphs">4</text>
<text x="368.0" y="292.4" class="lb" textLength="8.7" lengthAdjust="spacingAndGlyphs">2</text>
<text x="527.5" y="266.1" class="lb" textLength="8.7" lengthAdjust="spacingAndGlyphs">5</text>
<text x="595.4" y="301.9" class="lb" textLength="8.7" lengthAdjust="spacingAndGlyphs">4</text>
<text x="460.0" y="336.6" class="lb" textLength="8.7" lengthAdjust="spacingAndGlyphs">3</text>
<text x="513.6" y="371.9" class="lb" textLength="8.7" lengthAdjust="spacingAndGlyphs">4</text>
<text x="171.4" y="448.8" class="lb" textLength="8.7" lengthAdjust="spacingAndGlyphs">1</text>
</g>
</svg>
</body></html>
